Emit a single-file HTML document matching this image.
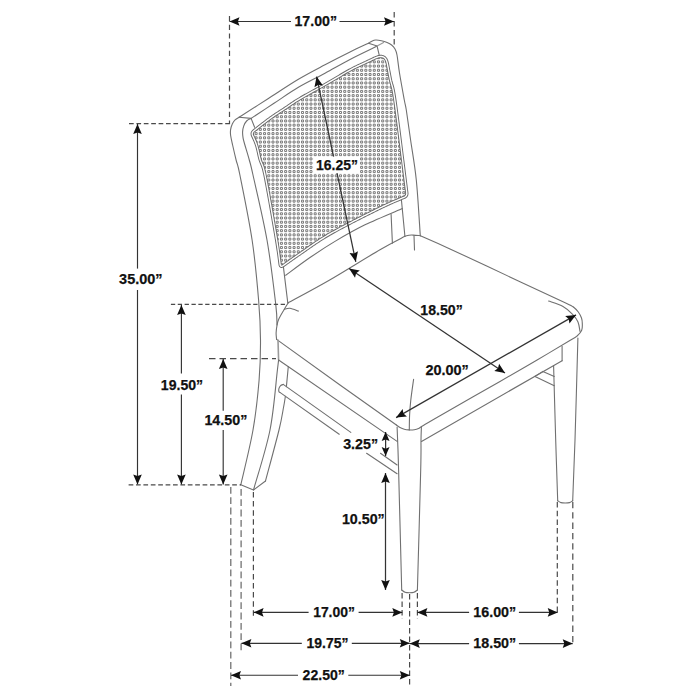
<!DOCTYPE html>
<html><head><meta charset="utf-8"><style>
html,body{margin:0;padding:0;background:#fff;width:700px;height:700px;overflow:hidden}
svg{display:block}
</style></head><body>
<svg width="700" height="700" viewBox="0 0 700 700">
<rect width="700" height="700" fill="#fff"/>
<defs><clipPath id="fc"><path d="M252.28,133.03L252.55,132.30L253.01,131.60L253.66,130.95L254.45,130.33L255.24,129.71L256.02,129.09L256.81,128.48L257.60,127.86L258.39,127.24L259.17,126.62L259.96,126.01L260.75,125.39L261.54,124.78L262.33,124.16L263.12,123.55L263.91,122.94L264.71,122.33L265.50,121.72L266.30,121.12L267.10,120.52L267.90,119.91L268.70,119.32L269.51,118.73L270.32,118.14L271.14,117.56L271.95,116.98L272.77,116.41L273.60,115.84L274.43,115.28L275.26,114.72L276.09,114.17L276.93,113.62L277.77,113.08L278.61,112.53L279.45,111.99L280.29,111.45L281.13,110.91L281.97,110.36L282.81,109.82L283.65,109.27L284.49,108.72L285.32,108.17L286.15,107.62L286.98,107.06L287.81,106.49L288.64,105.93L289.46,105.36L290.29,104.79L291.11,104.23L291.94,103.67L292.77,103.11L293.60,102.55L294.43,102.00L295.27,101.45L296.12,100.91L296.96,100.38L297.81,99.85L298.66,99.33L299.52,98.81L300.38,98.30L301.24,97.79L302.11,97.29L302.97,96.79L303.84,96.29L304.72,95.80L305.59,95.31L306.46,94.82L307.34,94.34L308.21,93.85L309.09,93.37L309.97,92.89L310.84,92.41L311.72,91.93L312.60,91.45L313.48,90.97L314.36,90.49L315.24,90.01L316.11,89.53L316.99,89.05L317.87,88.57L318.75,88.09L319.62,87.60L320.50,87.12L321.37,86.63L322.25,86.14L323.12,85.65L323.99,85.16L324.86,84.67L325.73,84.17L326.60,83.67L327.46,83.17L328.33,82.67L329.19,82.16L330.06,81.66L330.92,81.15L331.78,80.64L332.64,80.13L333.50,79.62L334.36,79.11L335.22,78.60L336.08,78.09L336.94,77.58L337.80,77.07L338.66,76.56L339.53,76.05L340.39,75.54L341.25,75.03L342.11,74.52L342.97,74.01L343.84,73.51L344.70,73.01L345.57,72.51L346.44,72.01L347.31,71.51L348.18,71.02L349.06,70.54L349.93,70.06L350.81,69.58L351.70,69.11L352.58,68.65L353.47,68.19L354.37,67.74L355.26,67.30L356.16,66.86L357.07,66.43L357.97,66.00L358.88,65.58L359.79,65.16L360.70,64.74L361.61,64.32L362.52,63.91L363.43,63.49L364.33,63.07L365.24,62.65L366.15,62.22L367.05,61.79L367.95,61.36L368.86,60.93L369.76,60.50L370.66,60.07L371.56,59.64L372.47,59.20L373.37,58.77L374.27,58.34L375.18,57.93L376.10,57.56L377.02,57.23L377.96,56.93L378.91,56.68L379.88,56.52L380.85,56.47L381.82,56.52L382.74,56.70L383.60,57.04L384.37,57.55L385.06,58.19L385.65,58.95L386.14,59.79L386.53,60.69L386.85,61.63L387.12,62.59L387.36,63.56L387.56,64.53L387.74,65.52L387.92,66.50L388.11,67.48L388.29,68.47L388.47,69.45L388.65,70.44L388.84,71.42L389.02,72.40L389.21,73.39L389.40,74.37L389.59,75.35L389.78,76.33L389.97,77.32L390.17,78.30L390.37,79.28L390.59,80.25L390.82,81.23L391.07,82.19L391.34,83.16L391.61,84.12L391.89,85.08L392.17,86.04L392.43,87.01L392.68,87.97L392.91,88.95L393.12,89.93L393.32,90.90L393.51,91.89L393.69,92.87L393.86,93.86L394.03,94.84L394.19,95.83L394.35,96.82L394.50,97.81L394.65,98.80L394.80,99.79L394.95,100.78L395.09,101.77L395.23,102.76L395.37,103.75L395.51,104.74L395.64,105.73L395.78,106.72L395.92,107.71L396.05,108.71L396.19,109.70L396.32,110.69L396.46,111.68L396.59,112.67L396.72,113.67L396.85,114.66L396.98,115.65L397.11,116.64L397.24,117.63L397.37,118.63L397.50,119.62L397.63,120.61L397.76,121.60L397.89,122.60L398.02,123.59L398.14,124.58L398.27,125.57L398.40,126.57L398.53,127.56L398.65,128.55L398.78,129.54L398.91,130.54L399.03,131.53L399.16,132.52L399.29,133.51L399.41,134.51L399.54,135.50L399.66,136.49L399.79,137.48L399.92,138.48L400.04,139.47L400.17,140.46L400.29,141.46L400.42,142.45L400.55,143.44L400.67,144.43L400.80,145.43L400.92,146.42L401.05,147.41L401.17,148.41L401.30,149.40L401.42,150.39L401.55,151.38L401.67,152.38L401.80,153.37L401.92,154.36L402.04,155.36L402.17,156.35L402.29,157.34L402.42,158.33L402.54,159.33L402.67,160.32L402.79,161.31L402.92,162.31L403.04,163.30L403.17,164.29L403.29,165.29L403.42,166.28L403.54,167.27L403.67,168.26L403.79,169.26L403.92,170.25L404.04,171.24L404.17,172.24L404.29,173.23L404.42,174.22L404.54,175.21L404.67,176.21L404.80,177.20L404.92,178.19L405.05,179.18L405.17,180.18L405.30,181.17L405.43,182.16L405.56,183.16L405.68,184.15L405.81,185.14L405.94,186.13L406.07,187.13L406.19,188.12L406.32,189.11L406.45,190.10L406.57,191.10L406.70,192.09L406.82,193.08L406.82,194.00L406.65,194.82L406.33,195.55L405.84,196.19L405.19,196.74L404.38,197.19L403.46,197.57L402.53,197.96L401.61,198.34L400.68,198.73L399.76,199.11L398.84,199.50L397.91,199.89L396.99,200.28L396.07,200.67L395.15,201.06L394.23,201.46L393.32,201.86L392.40,202.26L391.48,202.66L390.57,203.07L389.66,203.48L388.74,203.89L387.83,204.31L386.92,204.72L386.02,205.15L385.11,205.57L384.20,206.00L383.30,206.42L382.40,206.86L381.50,207.29L380.59,207.72L379.69,208.16L378.79,208.60L377.90,209.04L377.00,209.48L376.10,209.93L375.20,210.37L374.31,210.82L373.41,211.26L372.52,211.71L371.62,212.15L370.73,212.60L369.83,213.05L368.94,213.50L368.04,213.94L367.15,214.39L366.25,214.84L365.36,215.29L364.46,215.74L363.57,216.19L362.68,216.64L361.79,217.10L360.89,217.55L360.00,218.00L359.11,218.46L358.22,218.91L357.33,219.37L356.43,219.82L355.54,220.28L354.65,220.73L353.76,221.19L352.88,221.65L351.99,222.11L351.10,222.57L350.21,223.03L349.32,223.49L348.43,223.95L347.55,224.42L346.66,224.88L345.77,225.35L344.89,225.81L344.00,226.28L343.12,226.75L342.24,227.22L341.35,227.69L340.47,228.16L339.59,228.63L338.70,229.10L337.82,229.58L336.94,230.06L336.07,230.54L335.19,231.02L334.32,231.51L333.44,231.99L332.57,232.48L331.69,232.97L330.82,233.46L329.95,233.95L329.09,234.46L328.22,234.96L327.36,235.47L326.50,235.98L325.64,236.49L324.78,237.01L323.93,237.53L323.08,238.06L322.23,238.59L321.38,239.12L320.54,239.66L319.70,240.20L318.86,240.74L318.02,241.29L317.18,241.84L316.35,242.39L315.52,242.95L314.69,243.51L313.86,244.07L313.04,244.64L312.21,245.21L311.39,245.78L310.57,246.35L309.75,246.92L308.93,247.50L308.11,248.07L307.29,248.65L306.48,249.23L305.66,249.80L304.84,250.38L304.02,250.95L303.20,251.53L302.38,252.10L301.56,252.67L300.73,253.24L299.91,253.81L299.09,254.38L298.26,254.94L297.44,255.51L296.61,256.08L295.79,256.65L294.97,257.22L294.15,257.79L293.33,258.37L292.51,258.94L291.69,259.52L290.87,260.09L290.06,260.67L289.24,261.25L288.43,261.83L287.61,262.41L286.80,262.99L285.98,263.58L285.17,264.16L284.36,264.74L283.54,265.33L282.74,265.88L282.04,266.21L281.43,266.31L280.94,266.16L280.55,265.77L280.26,265.14L280.09,264.26L279.96,263.27L279.84,262.28L279.71,261.28L279.59,260.29L279.46,259.30L279.33,258.31L279.20,257.31L279.07,256.32L278.94,255.33L278.80,254.34L278.66,253.35L278.52,252.36L278.38,251.37L278.23,250.38L278.08,249.39L277.93,248.40L277.78,247.41L277.63,246.42L277.47,245.43L277.32,244.44L277.16,243.45L277.00,242.47L276.84,241.48L276.67,240.49L276.51,239.50L276.35,238.52L276.18,237.53L276.01,236.54L275.85,235.56L275.68,234.57L275.51,233.58L275.34,232.60L275.18,231.61L275.01,230.62L274.84,229.64L274.67,228.65L274.50,227.66L274.33,226.68L274.16,225.69L273.99,224.71L273.82,223.72L273.65,222.73L273.48,221.75L273.31,220.76L273.14,219.78L272.97,218.79L272.80,217.80L272.62,216.82L272.45,215.83L272.28,214.85L272.11,213.86L271.93,212.87L271.76,211.89L271.59,210.90L271.42,209.92L271.24,208.93L271.07,207.95L270.90,206.96L270.72,205.98L270.55,204.99L270.37,204.00L270.20,203.02L270.02,202.03L269.84,201.05L269.67,200.06L269.49,199.08L269.32,198.09L269.14,197.11L268.96,196.12L268.79,195.14L268.61,194.15L268.43,193.17L268.25,192.19L268.07,191.20L267.89,190.22L267.71,189.23L267.53,188.25L267.34,187.26L267.16,186.28L266.98,185.30L266.80,184.31L266.61,183.33L266.43,182.35L266.24,181.36L266.05,180.38L265.86,179.40L265.66,178.42L265.47,177.43L265.28,176.45L265.08,175.47L264.87,174.49L264.66,173.51L264.45,172.54L264.22,171.56L263.99,170.59L263.75,169.62L263.49,168.65L263.22,167.69L262.91,166.74L262.57,165.80L262.21,164.87L261.83,163.95L261.44,163.03L261.06,162.11L260.69,161.18L260.36,160.24L260.06,159.29L259.80,158.33L259.55,157.36L259.32,156.38L259.10,155.41L258.88,154.43L258.67,153.45L258.46,152.47L258.24,151.50L258.03,150.52L257.80,149.55L257.56,148.57L257.31,147.61L257.05,146.64L256.76,145.68L256.45,144.73L256.13,143.79L255.78,142.85L255.42,141.92L255.04,140.99L254.65,140.07L254.25,139.16L253.84,138.24L253.42,137.33L253.00,136.43L252.57,135.52L252.29,134.65L252.19,133.82Z"/></clipPath></defs>
<path clip-path="url(#fc)" d="M246.67 52.43h2.0v2.0h-2.0zM246.67 56.65h2.0v2.0h-2.0zM246.67 60.87h2.0v2.0h-2.0zM246.67 65.09h2.0v2.0h-2.0zM246.67 69.31h2.0v2.0h-2.0zM246.67 73.53h2.0v2.0h-2.0zM246.67 77.75h2.0v2.0h-2.0zM246.67 81.97h2.0v2.0h-2.0zM246.67 86.19h2.0v2.0h-2.0zM246.67 90.41h2.0v2.0h-2.0zM246.67 94.63h2.0v2.0h-2.0zM246.67 98.85h2.0v2.0h-2.0zM246.67 103.07h2.0v2.0h-2.0zM246.67 107.29h2.0v2.0h-2.0zM246.67 111.51h2.0v2.0h-2.0zM246.67 115.73h2.0v2.0h-2.0zM246.67 119.95h2.0v2.0h-2.0zM246.67 124.17h2.0v2.0h-2.0zM246.67 128.39h2.0v2.0h-2.0zM246.67 132.61h2.0v2.0h-2.0zM246.67 136.83h2.0v2.0h-2.0zM246.67 141.05h2.0v2.0h-2.0zM246.67 145.27h2.0v2.0h-2.0zM246.67 149.49h2.0v2.0h-2.0zM246.67 153.71h2.0v2.0h-2.0zM246.67 157.93h2.0v2.0h-2.0zM246.67 162.15h2.0v2.0h-2.0zM246.67 166.37h2.0v2.0h-2.0zM246.67 170.59h2.0v2.0h-2.0zM246.67 174.81h2.0v2.0h-2.0zM246.67 179.03h2.0v2.0h-2.0zM246.67 183.25h2.0v2.0h-2.0zM246.67 187.47h2.0v2.0h-2.0zM246.67 191.69h2.0v2.0h-2.0zM246.67 195.91h2.0v2.0h-2.0zM246.67 200.13h2.0v2.0h-2.0zM246.67 204.35h2.0v2.0h-2.0zM246.67 208.57h2.0v2.0h-2.0zM246.67 212.79h2.0v2.0h-2.0zM246.67 217.01h2.0v2.0h-2.0zM246.67 221.23h2.0v2.0h-2.0zM246.67 225.45h2.0v2.0h-2.0zM246.67 229.67h2.0v2.0h-2.0zM246.67 233.89h2.0v2.0h-2.0zM246.67 238.11h2.0v2.0h-2.0zM246.67 242.33h2.0v2.0h-2.0zM246.67 246.55h2.0v2.0h-2.0zM246.67 250.77h2.0v2.0h-2.0zM246.67 254.99h2.0v2.0h-2.0zM246.67 259.21h2.0v2.0h-2.0zM246.67 263.43h2.0v2.0h-2.0zM246.67 267.65h2.0v2.0h-2.0zM250.89 52.43h2.0v2.0h-2.0zM250.89 56.65h2.0v2.0h-2.0zM250.89 60.87h2.0v2.0h-2.0zM250.89 65.09h2.0v2.0h-2.0zM250.89 69.31h2.0v2.0h-2.0zM250.89 73.53h2.0v2.0h-2.0zM250.89 77.75h2.0v2.0h-2.0zM250.89 81.97h2.0v2.0h-2.0zM250.89 86.19h2.0v2.0h-2.0zM250.89 90.41h2.0v2.0h-2.0zM250.89 94.63h2.0v2.0h-2.0zM250.89 98.85h2.0v2.0h-2.0zM250.89 103.07h2.0v2.0h-2.0zM250.89 107.29h2.0v2.0h-2.0zM250.89 111.51h2.0v2.0h-2.0zM250.89 115.73h2.0v2.0h-2.0zM250.89 119.95h2.0v2.0h-2.0zM250.89 124.17h2.0v2.0h-2.0zM250.89 128.39h2.0v2.0h-2.0zM250.89 132.61h2.0v2.0h-2.0zM250.89 136.83h2.0v2.0h-2.0zM250.89 141.05h2.0v2.0h-2.0zM250.89 145.27h2.0v2.0h-2.0zM250.89 149.49h2.0v2.0h-2.0zM250.89 153.71h2.0v2.0h-2.0zM250.89 157.93h2.0v2.0h-2.0zM250.89 162.15h2.0v2.0h-2.0zM250.89 166.37h2.0v2.0h-2.0zM250.89 170.59h2.0v2.0h-2.0zM250.89 174.81h2.0v2.0h-2.0zM250.89 179.03h2.0v2.0h-2.0zM250.89 183.25h2.0v2.0h-2.0zM250.89 187.47h2.0v2.0h-2.0zM250.89 191.69h2.0v2.0h-2.0zM250.89 195.91h2.0v2.0h-2.0zM250.89 200.13h2.0v2.0h-2.0zM250.89 204.35h2.0v2.0h-2.0zM250.89 208.57h2.0v2.0h-2.0zM250.89 212.79h2.0v2.0h-2.0zM250.89 217.01h2.0v2.0h-2.0zM250.89 221.23h2.0v2.0h-2.0zM250.89 225.45h2.0v2.0h-2.0zM250.89 229.67h2.0v2.0h-2.0zM250.89 233.89h2.0v2.0h-2.0zM250.89 238.11h2.0v2.0h-2.0zM250.89 242.33h2.0v2.0h-2.0zM250.89 246.55h2.0v2.0h-2.0zM250.89 250.77h2.0v2.0h-2.0zM250.89 254.99h2.0v2.0h-2.0zM250.89 259.21h2.0v2.0h-2.0zM250.89 263.43h2.0v2.0h-2.0zM250.89 267.65h2.0v2.0h-2.0zM255.11 52.43h2.0v2.0h-2.0zM255.11 56.65h2.0v2.0h-2.0zM255.11 60.87h2.0v2.0h-2.0zM255.11 65.09h2.0v2.0h-2.0zM255.11 69.31h2.0v2.0h-2.0zM255.11 73.53h2.0v2.0h-2.0zM255.11 77.75h2.0v2.0h-2.0zM255.11 81.97h2.0v2.0h-2.0zM255.11 86.19h2.0v2.0h-2.0zM255.11 90.41h2.0v2.0h-2.0zM255.11 94.63h2.0v2.0h-2.0zM255.11 98.85h2.0v2.0h-2.0zM255.11 103.07h2.0v2.0h-2.0zM255.11 107.29h2.0v2.0h-2.0zM255.11 111.51h2.0v2.0h-2.0zM255.11 115.73h2.0v2.0h-2.0zM255.11 119.95h2.0v2.0h-2.0zM255.11 124.17h2.0v2.0h-2.0zM255.11 128.39h2.0v2.0h-2.0zM255.11 132.61h2.0v2.0h-2.0zM255.11 136.83h2.0v2.0h-2.0zM255.11 141.05h2.0v2.0h-2.0zM255.11 145.27h2.0v2.0h-2.0zM255.11 149.49h2.0v2.0h-2.0zM255.11 153.71h2.0v2.0h-2.0zM255.11 157.93h2.0v2.0h-2.0zM255.11 162.15h2.0v2.0h-2.0zM255.11 166.37h2.0v2.0h-2.0zM255.11 170.59h2.0v2.0h-2.0zM255.11 174.81h2.0v2.0h-2.0zM255.11 179.03h2.0v2.0h-2.0zM255.11 183.25h2.0v2.0h-2.0zM255.11 187.47h2.0v2.0h-2.0zM255.11 191.69h2.0v2.0h-2.0zM255.11 195.91h2.0v2.0h-2.0zM255.11 200.13h2.0v2.0h-2.0zM255.11 204.35h2.0v2.0h-2.0zM255.11 208.57h2.0v2.0h-2.0zM255.11 212.79h2.0v2.0h-2.0zM255.11 217.01h2.0v2.0h-2.0zM255.11 221.23h2.0v2.0h-2.0zM255.11 225.45h2.0v2.0h-2.0zM255.11 229.67h2.0v2.0h-2.0zM255.11 233.89h2.0v2.0h-2.0zM255.11 238.11h2.0v2.0h-2.0zM255.11 242.33h2.0v2.0h-2.0zM255.11 246.55h2.0v2.0h-2.0zM255.11 250.77h2.0v2.0h-2.0zM255.11 254.99h2.0v2.0h-2.0zM255.11 259.21h2.0v2.0h-2.0zM255.11 263.43h2.0v2.0h-2.0zM255.11 267.65h2.0v2.0h-2.0zM259.33 52.43h2.0v2.0h-2.0zM259.33 56.65h2.0v2.0h-2.0zM259.33 60.87h2.0v2.0h-2.0zM259.33 65.09h2.0v2.0h-2.0zM259.33 69.31h2.0v2.0h-2.0zM259.33 73.53h2.0v2.0h-2.0zM259.33 77.75h2.0v2.0h-2.0zM259.33 81.97h2.0v2.0h-2.0zM259.33 86.19h2.0v2.0h-2.0zM259.33 90.41h2.0v2.0h-2.0zM259.33 94.63h2.0v2.0h-2.0zM259.33 98.85h2.0v2.0h-2.0zM259.33 103.07h2.0v2.0h-2.0zM259.33 107.29h2.0v2.0h-2.0zM259.33 111.51h2.0v2.0h-2.0zM259.33 115.73h2.0v2.0h-2.0zM259.33 119.95h2.0v2.0h-2.0zM259.33 124.17h2.0v2.0h-2.0zM259.33 128.39h2.0v2.0h-2.0zM259.33 132.61h2.0v2.0h-2.0zM259.33 136.83h2.0v2.0h-2.0zM259.33 141.05h2.0v2.0h-2.0zM259.33 145.27h2.0v2.0h-2.0zM259.33 149.49h2.0v2.0h-2.0zM259.33 153.71h2.0v2.0h-2.0zM259.33 157.93h2.0v2.0h-2.0zM259.33 162.15h2.0v2.0h-2.0zM259.33 166.37h2.0v2.0h-2.0zM259.33 170.59h2.0v2.0h-2.0zM259.33 174.81h2.0v2.0h-2.0zM259.33 179.03h2.0v2.0h-2.0zM259.33 183.25h2.0v2.0h-2.0zM259.33 187.47h2.0v2.0h-2.0zM259.33 191.69h2.0v2.0h-2.0zM259.33 195.91h2.0v2.0h-2.0zM259.33 200.13h2.0v2.0h-2.0zM259.33 204.35h2.0v2.0h-2.0zM259.33 208.57h2.0v2.0h-2.0zM259.33 212.79h2.0v2.0h-2.0zM259.33 217.01h2.0v2.0h-2.0zM259.33 221.23h2.0v2.0h-2.0zM259.33 225.45h2.0v2.0h-2.0zM259.33 229.67h2.0v2.0h-2.0zM259.33 233.89h2.0v2.0h-2.0zM259.33 238.11h2.0v2.0h-2.0zM259.33 242.33h2.0v2.0h-2.0zM259.33 246.55h2.0v2.0h-2.0zM259.33 250.77h2.0v2.0h-2.0zM259.33 254.99h2.0v2.0h-2.0zM259.33 259.21h2.0v2.0h-2.0zM259.33 263.43h2.0v2.0h-2.0zM259.33 267.65h2.0v2.0h-2.0zM263.55 52.43h2.0v2.0h-2.0zM263.55 56.65h2.0v2.0h-2.0zM263.55 60.87h2.0v2.0h-2.0zM263.55 65.09h2.0v2.0h-2.0zM263.55 69.31h2.0v2.0h-2.0zM263.55 73.53h2.0v2.0h-2.0zM263.55 77.75h2.0v2.0h-2.0zM263.55 81.97h2.0v2.0h-2.0zM263.55 86.19h2.0v2.0h-2.0zM263.55 90.41h2.0v2.0h-2.0zM263.55 94.63h2.0v2.0h-2.0zM263.55 98.85h2.0v2.0h-2.0zM263.55 103.07h2.0v2.0h-2.0zM263.55 107.29h2.0v2.0h-2.0zM263.55 111.51h2.0v2.0h-2.0zM263.55 115.73h2.0v2.0h-2.0zM263.55 119.95h2.0v2.0h-2.0zM263.55 124.17h2.0v2.0h-2.0zM263.55 128.39h2.0v2.0h-2.0zM263.55 132.61h2.0v2.0h-2.0zM263.55 136.83h2.0v2.0h-2.0zM263.55 141.05h2.0v2.0h-2.0zM263.55 145.27h2.0v2.0h-2.0zM263.55 149.49h2.0v2.0h-2.0zM263.55 153.71h2.0v2.0h-2.0zM263.55 157.93h2.0v2.0h-2.0zM263.55 162.15h2.0v2.0h-2.0zM263.55 166.37h2.0v2.0h-2.0zM263.55 170.59h2.0v2.0h-2.0zM263.55 174.81h2.0v2.0h-2.0zM263.55 179.03h2.0v2.0h-2.0zM263.55 183.25h2.0v2.0h-2.0zM263.55 187.47h2.0v2.0h-2.0zM263.55 191.69h2.0v2.0h-2.0zM263.55 195.91h2.0v2.0h-2.0zM263.55 200.13h2.0v2.0h-2.0zM263.55 204.35h2.0v2.0h-2.0zM263.55 208.57h2.0v2.0h-2.0zM263.55 212.79h2.0v2.0h-2.0zM263.55 217.01h2.0v2.0h-2.0zM263.55 221.23h2.0v2.0h-2.0zM263.55 225.45h2.0v2.0h-2.0zM263.55 229.67h2.0v2.0h-2.0zM263.55 233.89h2.0v2.0h-2.0zM263.55 238.11h2.0v2.0h-2.0zM263.55 242.33h2.0v2.0h-2.0zM263.55 246.55h2.0v2.0h-2.0zM263.55 250.77h2.0v2.0h-2.0zM263.55 254.99h2.0v2.0h-2.0zM263.55 259.21h2.0v2.0h-2.0zM263.55 263.43h2.0v2.0h-2.0zM263.55 267.65h2.0v2.0h-2.0zM267.77 52.43h2.0v2.0h-2.0zM267.77 56.65h2.0v2.0h-2.0zM267.77 60.87h2.0v2.0h-2.0zM267.77 65.09h2.0v2.0h-2.0zM267.77 69.31h2.0v2.0h-2.0zM267.77 73.53h2.0v2.0h-2.0zM267.77 77.75h2.0v2.0h-2.0zM267.77 81.97h2.0v2.0h-2.0zM267.77 86.19h2.0v2.0h-2.0zM267.77 90.41h2.0v2.0h-2.0zM267.77 94.63h2.0v2.0h-2.0zM267.77 98.85h2.0v2.0h-2.0zM267.77 103.07h2.0v2.0h-2.0zM267.77 107.29h2.0v2.0h-2.0zM267.77 111.51h2.0v2.0h-2.0zM267.77 115.73h2.0v2.0h-2.0zM267.77 119.95h2.0v2.0h-2.0zM267.77 124.17h2.0v2.0h-2.0zM267.77 128.39h2.0v2.0h-2.0zM267.77 132.61h2.0v2.0h-2.0zM267.77 136.83h2.0v2.0h-2.0zM267.77 141.05h2.0v2.0h-2.0zM267.77 145.27h2.0v2.0h-2.0zM267.77 149.49h2.0v2.0h-2.0zM267.77 153.71h2.0v2.0h-2.0zM267.77 157.93h2.0v2.0h-2.0zM267.77 162.15h2.0v2.0h-2.0zM267.77 166.37h2.0v2.0h-2.0zM267.77 170.59h2.0v2.0h-2.0zM267.77 174.81h2.0v2.0h-2.0zM267.77 179.03h2.0v2.0h-2.0zM267.77 183.25h2.0v2.0h-2.0zM267.77 187.47h2.0v2.0h-2.0zM267.77 191.69h2.0v2.0h-2.0zM267.77 195.91h2.0v2.0h-2.0zM267.77 200.13h2.0v2.0h-2.0zM267.77 204.35h2.0v2.0h-2.0zM267.77 208.57h2.0v2.0h-2.0zM267.77 212.79h2.0v2.0h-2.0zM267.77 217.01h2.0v2.0h-2.0zM267.77 221.23h2.0v2.0h-2.0zM267.77 225.45h2.0v2.0h-2.0zM267.77 229.67h2.0v2.0h-2.0zM267.77 233.89h2.0v2.0h-2.0zM267.77 238.11h2.0v2.0h-2.0zM267.77 242.33h2.0v2.0h-2.0zM267.77 246.55h2.0v2.0h-2.0zM267.77 250.77h2.0v2.0h-2.0zM267.77 254.99h2.0v2.0h-2.0zM267.77 259.21h2.0v2.0h-2.0zM267.77 263.43h2.0v2.0h-2.0zM267.77 267.65h2.0v2.0h-2.0zM271.99 52.43h2.0v2.0h-2.0zM271.99 56.65h2.0v2.0h-2.0zM271.99 60.87h2.0v2.0h-2.0zM271.99 65.09h2.0v2.0h-2.0zM271.99 69.31h2.0v2.0h-2.0zM271.99 73.53h2.0v2.0h-2.0zM271.99 77.75h2.0v2.0h-2.0zM271.99 81.97h2.0v2.0h-2.0zM271.99 86.19h2.0v2.0h-2.0zM271.99 90.41h2.0v2.0h-2.0zM271.99 94.63h2.0v2.0h-2.0zM271.99 98.85h2.0v2.0h-2.0zM271.99 103.07h2.0v2.0h-2.0zM271.99 107.29h2.0v2.0h-2.0zM271.99 111.51h2.0v2.0h-2.0zM271.99 115.73h2.0v2.0h-2.0zM271.99 119.95h2.0v2.0h-2.0zM271.99 124.17h2.0v2.0h-2.0zM271.99 128.39h2.0v2.0h-2.0zM271.99 132.61h2.0v2.0h-2.0zM271.99 136.83h2.0v2.0h-2.0zM271.99 141.05h2.0v2.0h-2.0zM271.99 145.27h2.0v2.0h-2.0zM271.99 149.49h2.0v2.0h-2.0zM271.99 153.71h2.0v2.0h-2.0zM271.99 157.93h2.0v2.0h-2.0zM271.99 162.15h2.0v2.0h-2.0zM271.99 166.37h2.0v2.0h-2.0zM271.99 170.59h2.0v2.0h-2.0zM271.99 174.81h2.0v2.0h-2.0zM271.99 179.03h2.0v2.0h-2.0zM271.99 183.25h2.0v2.0h-2.0zM271.99 187.47h2.0v2.0h-2.0zM271.99 191.69h2.0v2.0h-2.0zM271.99 195.91h2.0v2.0h-2.0zM271.99 200.13h2.0v2.0h-2.0zM271.99 204.35h2.0v2.0h-2.0zM271.99 208.57h2.0v2.0h-2.0zM271.99 212.79h2.0v2.0h-2.0zM271.99 217.01h2.0v2.0h-2.0zM271.99 221.23h2.0v2.0h-2.0zM271.99 225.45h2.0v2.0h-2.0zM271.99 229.67h2.0v2.0h-2.0zM271.99 233.89h2.0v2.0h-2.0zM271.99 238.11h2.0v2.0h-2.0zM271.99 242.33h2.0v2.0h-2.0zM271.99 246.55h2.0v2.0h-2.0zM271.99 250.77h2.0v2.0h-2.0zM271.99 254.99h2.0v2.0h-2.0zM271.99 259.21h2.0v2.0h-2.0zM271.99 263.43h2.0v2.0h-2.0zM271.99 267.65h2.0v2.0h-2.0zM276.21 52.43h2.0v2.0h-2.0zM276.21 56.65h2.0v2.0h-2.0zM276.21 60.87h2.0v2.0h-2.0zM276.21 65.09h2.0v2.0h-2.0zM276.21 69.31h2.0v2.0h-2.0zM276.21 73.53h2.0v2.0h-2.0zM276.21 77.75h2.0v2.0h-2.0zM276.21 81.97h2.0v2.0h-2.0zM276.21 86.19h2.0v2.0h-2.0zM276.21 90.41h2.0v2.0h-2.0zM276.21 94.63h2.0v2.0h-2.0zM276.21 98.85h2.0v2.0h-2.0zM276.21 103.07h2.0v2.0h-2.0zM276.21 107.29h2.0v2.0h-2.0zM276.21 111.51h2.0v2.0h-2.0zM276.21 115.73h2.0v2.0h-2.0zM276.21 119.95h2.0v2.0h-2.0zM276.21 124.17h2.0v2.0h-2.0zM276.21 128.39h2.0v2.0h-2.0zM276.21 132.61h2.0v2.0h-2.0zM276.21 136.83h2.0v2.0h-2.0zM276.21 141.05h2.0v2.0h-2.0zM276.21 145.27h2.0v2.0h-2.0zM276.21 149.49h2.0v2.0h-2.0zM276.21 153.71h2.0v2.0h-2.0zM276.21 157.93h2.0v2.0h-2.0zM276.21 162.15h2.0v2.0h-2.0zM276.21 166.37h2.0v2.0h-2.0zM276.21 170.59h2.0v2.0h-2.0zM276.21 174.81h2.0v2.0h-2.0zM276.21 179.03h2.0v2.0h-2.0zM276.21 183.25h2.0v2.0h-2.0zM276.21 187.47h2.0v2.0h-2.0zM276.21 191.69h2.0v2.0h-2.0zM276.21 195.91h2.0v2.0h-2.0zM276.21 200.13h2.0v2.0h-2.0zM276.21 204.35h2.0v2.0h-2.0zM276.21 208.57h2.0v2.0h-2.0zM276.21 212.79h2.0v2.0h-2.0zM276.21 217.01h2.0v2.0h-2.0zM276.21 221.23h2.0v2.0h-2.0zM276.21 225.45h2.0v2.0h-2.0zM276.21 229.67h2.0v2.0h-2.0zM276.21 233.89h2.0v2.0h-2.0zM276.21 238.11h2.0v2.0h-2.0zM276.21 242.33h2.0v2.0h-2.0zM276.21 246.55h2.0v2.0h-2.0zM276.21 250.77h2.0v2.0h-2.0zM276.21 254.99h2.0v2.0h-2.0zM276.21 259.21h2.0v2.0h-2.0zM276.21 263.43h2.0v2.0h-2.0zM276.21 267.65h2.0v2.0h-2.0zM280.43 52.43h2.0v2.0h-2.0zM280.43 56.65h2.0v2.0h-2.0zM280.43 60.87h2.0v2.0h-2.0zM280.43 65.09h2.0v2.0h-2.0zM280.43 69.31h2.0v2.0h-2.0zM280.43 73.53h2.0v2.0h-2.0zM280.43 77.75h2.0v2.0h-2.0zM280.43 81.97h2.0v2.0h-2.0zM280.43 86.19h2.0v2.0h-2.0zM280.43 90.41h2.0v2.0h-2.0zM280.43 94.63h2.0v2.0h-2.0zM280.43 98.85h2.0v2.0h-2.0zM280.43 103.07h2.0v2.0h-2.0zM280.43 107.29h2.0v2.0h-2.0zM280.43 111.51h2.0v2.0h-2.0zM280.43 115.73h2.0v2.0h-2.0zM280.43 119.95h2.0v2.0h-2.0zM280.43 124.17h2.0v2.0h-2.0zM280.43 128.39h2.0v2.0h-2.0zM280.43 132.61h2.0v2.0h-2.0zM280.43 136.83h2.0v2.0h-2.0zM280.43 141.05h2.0v2.0h-2.0zM280.43 145.27h2.0v2.0h-2.0zM280.43 149.49h2.0v2.0h-2.0zM280.43 153.71h2.0v2.0h-2.0zM280.43 157.93h2.0v2.0h-2.0zM280.43 162.15h2.0v2.0h-2.0zM280.43 166.37h2.0v2.0h-2.0zM280.43 170.59h2.0v2.0h-2.0zM280.43 174.81h2.0v2.0h-2.0zM280.43 179.03h2.0v2.0h-2.0zM280.43 183.25h2.0v2.0h-2.0zM280.43 187.47h2.0v2.0h-2.0zM280.43 191.69h2.0v2.0h-2.0zM280.43 195.91h2.0v2.0h-2.0zM280.43 200.13h2.0v2.0h-2.0zM280.43 204.35h2.0v2.0h-2.0zM280.43 208.57h2.0v2.0h-2.0zM280.43 212.79h2.0v2.0h-2.0zM280.43 217.01h2.0v2.0h-2.0zM280.43 221.23h2.0v2.0h-2.0zM280.43 225.45h2.0v2.0h-2.0zM280.43 229.67h2.0v2.0h-2.0zM280.43 233.89h2.0v2.0h-2.0zM280.43 238.11h2.0v2.0h-2.0zM280.43 242.33h2.0v2.0h-2.0zM280.43 246.55h2.0v2.0h-2.0zM280.43 250.77h2.0v2.0h-2.0zM280.43 254.99h2.0v2.0h-2.0zM280.43 259.21h2.0v2.0h-2.0zM280.43 263.43h2.0v2.0h-2.0zM280.43 267.65h2.0v2.0h-2.0zM284.65 52.43h2.0v2.0h-2.0zM284.65 56.65h2.0v2.0h-2.0zM284.65 60.87h2.0v2.0h-2.0zM284.65 65.09h2.0v2.0h-2.0zM284.65 69.31h2.0v2.0h-2.0zM284.65 73.53h2.0v2.0h-2.0zM284.65 77.75h2.0v2.0h-2.0zM284.65 81.97h2.0v2.0h-2.0zM284.65 86.19h2.0v2.0h-2.0zM284.65 90.41h2.0v2.0h-2.0zM284.65 94.63h2.0v2.0h-2.0zM284.65 98.85h2.0v2.0h-2.0zM284.65 103.07h2.0v2.0h-2.0zM284.65 107.29h2.0v2.0h-2.0zM284.65 111.51h2.0v2.0h-2.0zM284.65 115.73h2.0v2.0h-2.0zM284.65 119.95h2.0v2.0h-2.0zM284.65 124.17h2.0v2.0h-2.0zM284.65 128.39h2.0v2.0h-2.0zM284.65 132.61h2.0v2.0h-2.0zM284.65 136.83h2.0v2.0h-2.0zM284.65 141.05h2.0v2.0h-2.0zM284.65 145.27h2.0v2.0h-2.0zM284.65 149.49h2.0v2.0h-2.0zM284.65 153.71h2.0v2.0h-2.0zM284.65 157.93h2.0v2.0h-2.0zM284.65 162.15h2.0v2.0h-2.0zM284.65 166.37h2.0v2.0h-2.0zM284.65 170.59h2.0v2.0h-2.0zM284.65 174.81h2.0v2.0h-2.0zM284.65 179.03h2.0v2.0h-2.0zM284.65 183.25h2.0v2.0h-2.0zM284.65 187.47h2.0v2.0h-2.0zM284.65 191.69h2.0v2.0h-2.0zM284.65 195.91h2.0v2.0h-2.0zM284.65 200.13h2.0v2.0h-2.0zM284.65 204.35h2.0v2.0h-2.0zM284.65 208.57h2.0v2.0h-2.0zM284.65 212.79h2.0v2.0h-2.0zM284.65 217.01h2.0v2.0h-2.0zM284.65 221.23h2.0v2.0h-2.0zM284.65 225.45h2.0v2.0h-2.0zM284.65 229.67h2.0v2.0h-2.0zM284.65 233.89h2.0v2.0h-2.0zM284.65 238.11h2.0v2.0h-2.0zM284.65 242.33h2.0v2.0h-2.0zM284.65 246.55h2.0v2.0h-2.0zM284.65 250.77h2.0v2.0h-2.0zM284.65 254.99h2.0v2.0h-2.0zM284.65 259.21h2.0v2.0h-2.0zM284.65 263.43h2.0v2.0h-2.0zM284.65 267.65h2.0v2.0h-2.0zM288.87 52.43h2.0v2.0h-2.0zM288.87 56.65h2.0v2.0h-2.0zM288.87 60.87h2.0v2.0h-2.0zM288.87 65.09h2.0v2.0h-2.0zM288.87 69.31h2.0v2.0h-2.0zM288.87 73.53h2.0v2.0h-2.0zM288.87 77.75h2.0v2.0h-2.0zM288.87 81.97h2.0v2.0h-2.0zM288.87 86.19h2.0v2.0h-2.0zM288.87 90.41h2.0v2.0h-2.0zM288.87 94.63h2.0v2.0h-2.0zM288.87 98.85h2.0v2.0h-2.0zM288.87 103.07h2.0v2.0h-2.0zM288.87 107.29h2.0v2.0h-2.0zM288.87 111.51h2.0v2.0h-2.0zM288.87 115.73h2.0v2.0h-2.0zM288.87 119.95h2.0v2.0h-2.0zM288.87 124.17h2.0v2.0h-2.0zM288.87 128.39h2.0v2.0h-2.0zM288.87 132.61h2.0v2.0h-2.0zM288.87 136.83h2.0v2.0h-2.0zM288.87 141.05h2.0v2.0h-2.0zM288.87 145.27h2.0v2.0h-2.0zM288.87 149.49h2.0v2.0h-2.0zM288.87 153.71h2.0v2.0h-2.0zM288.87 157.93h2.0v2.0h-2.0zM288.87 162.15h2.0v2.0h-2.0zM288.87 166.37h2.0v2.0h-2.0zM288.87 170.59h2.0v2.0h-2.0zM288.87 174.81h2.0v2.0h-2.0zM288.87 179.03h2.0v2.0h-2.0zM288.87 183.25h2.0v2.0h-2.0zM288.87 187.47h2.0v2.0h-2.0zM288.87 191.69h2.0v2.0h-2.0zM288.87 195.91h2.0v2.0h-2.0zM288.87 200.13h2.0v2.0h-2.0zM288.87 204.35h2.0v2.0h-2.0zM288.87 208.57h2.0v2.0h-2.0zM288.87 212.79h2.0v2.0h-2.0zM288.87 217.01h2.0v2.0h-2.0zM288.87 221.23h2.0v2.0h-2.0zM288.87 225.45h2.0v2.0h-2.0zM288.87 229.67h2.0v2.0h-2.0zM288.87 233.89h2.0v2.0h-2.0zM288.87 238.11h2.0v2.0h-2.0zM288.87 242.33h2.0v2.0h-2.0zM288.87 246.55h2.0v2.0h-2.0zM288.87 250.77h2.0v2.0h-2.0zM288.87 254.99h2.0v2.0h-2.0zM288.87 259.21h2.0v2.0h-2.0zM288.87 263.43h2.0v2.0h-2.0zM288.87 267.65h2.0v2.0h-2.0zM293.09 52.43h2.0v2.0h-2.0zM293.09 56.65h2.0v2.0h-2.0zM293.09 60.87h2.0v2.0h-2.0zM293.09 65.09h2.0v2.0h-2.0zM293.09 69.31h2.0v2.0h-2.0zM293.09 73.53h2.0v2.0h-2.0zM293.09 77.75h2.0v2.0h-2.0zM293.09 81.97h2.0v2.0h-2.0zM293.09 86.19h2.0v2.0h-2.0zM293.09 90.41h2.0v2.0h-2.0zM293.09 94.63h2.0v2.0h-2.0zM293.09 98.85h2.0v2.0h-2.0zM293.09 103.07h2.0v2.0h-2.0zM293.09 107.29h2.0v2.0h-2.0zM293.09 111.51h2.0v2.0h-2.0zM293.09 115.73h2.0v2.0h-2.0zM293.09 119.95h2.0v2.0h-2.0zM293.09 124.17h2.0v2.0h-2.0zM293.09 128.39h2.0v2.0h-2.0zM293.09 132.61h2.0v2.0h-2.0zM293.09 136.83h2.0v2.0h-2.0zM293.09 141.05h2.0v2.0h-2.0zM293.09 145.27h2.0v2.0h-2.0zM293.09 149.49h2.0v2.0h-2.0zM293.09 153.71h2.0v2.0h-2.0zM293.09 157.93h2.0v2.0h-2.0zM293.09 162.15h2.0v2.0h-2.0zM293.09 166.37h2.0v2.0h-2.0zM293.09 170.59h2.0v2.0h-2.0zM293.09 174.81h2.0v2.0h-2.0zM293.09 179.03h2.0v2.0h-2.0zM293.09 183.25h2.0v2.0h-2.0zM293.09 187.47h2.0v2.0h-2.0zM293.09 191.69h2.0v2.0h-2.0zM293.09 195.91h2.0v2.0h-2.0zM293.09 200.13h2.0v2.0h-2.0zM293.09 204.35h2.0v2.0h-2.0zM293.09 208.57h2.0v2.0h-2.0zM293.09 212.79h2.0v2.0h-2.0zM293.09 217.01h2.0v2.0h-2.0zM293.09 221.23h2.0v2.0h-2.0zM293.09 225.45h2.0v2.0h-2.0zM293.09 229.67h2.0v2.0h-2.0zM293.09 233.89h2.0v2.0h-2.0zM293.09 238.11h2.0v2.0h-2.0zM293.09 242.33h2.0v2.0h-2.0zM293.09 246.55h2.0v2.0h-2.0zM293.09 250.77h2.0v2.0h-2.0zM293.09 254.99h2.0v2.0h-2.0zM293.09 259.21h2.0v2.0h-2.0zM293.09 263.43h2.0v2.0h-2.0zM293.09 267.65h2.0v2.0h-2.0zM297.31 52.43h2.0v2.0h-2.0zM297.31 56.65h2.0v2.0h-2.0zM297.31 60.87h2.0v2.0h-2.0zM297.31 65.09h2.0v2.0h-2.0zM297.31 69.31h2.0v2.0h-2.0zM297.31 73.53h2.0v2.0h-2.0zM297.31 77.75h2.0v2.0h-2.0zM297.31 81.97h2.0v2.0h-2.0zM297.31 86.19h2.0v2.0h-2.0zM297.31 90.41h2.0v2.0h-2.0zM297.31 94.63h2.0v2.0h-2.0zM297.31 98.85h2.0v2.0h-2.0zM297.31 103.07h2.0v2.0h-2.0zM297.31 107.29h2.0v2.0h-2.0zM297.31 111.51h2.0v2.0h-2.0zM297.31 115.73h2.0v2.0h-2.0zM297.31 119.95h2.0v2.0h-2.0zM297.31 124.17h2.0v2.0h-2.0zM297.31 128.39h2.0v2.0h-2.0zM297.31 132.61h2.0v2.0h-2.0zM297.31 136.83h2.0v2.0h-2.0zM297.31 141.05h2.0v2.0h-2.0zM297.31 145.27h2.0v2.0h-2.0zM297.31 149.49h2.0v2.0h-2.0zM297.31 153.71h2.0v2.0h-2.0zM297.31 157.93h2.0v2.0h-2.0zM297.31 162.15h2.0v2.0h-2.0zM297.31 166.37h2.0v2.0h-2.0zM297.31 170.59h2.0v2.0h-2.0zM297.31 174.81h2.0v2.0h-2.0zM297.31 179.03h2.0v2.0h-2.0zM297.31 183.25h2.0v2.0h-2.0zM297.31 187.47h2.0v2.0h-2.0zM297.31 191.69h2.0v2.0h-2.0zM297.31 195.91h2.0v2.0h-2.0zM297.31 200.13h2.0v2.0h-2.0zM297.31 204.35h2.0v2.0h-2.0zM297.31 208.57h2.0v2.0h-2.0zM297.31 212.79h2.0v2.0h-2.0zM297.31 217.01h2.0v2.0h-2.0zM297.31 221.23h2.0v2.0h-2.0zM297.31 225.45h2.0v2.0h-2.0zM297.31 229.67h2.0v2.0h-2.0zM297.31 233.89h2.0v2.0h-2.0zM297.31 238.11h2.0v2.0h-2.0zM297.31 242.33h2.0v2.0h-2.0zM297.31 246.55h2.0v2.0h-2.0zM297.31 250.77h2.0v2.0h-2.0zM297.31 254.99h2.0v2.0h-2.0zM297.31 259.21h2.0v2.0h-2.0zM297.31 263.43h2.0v2.0h-2.0zM297.31 267.65h2.0v2.0h-2.0zM301.53 52.43h2.0v2.0h-2.0zM301.53 56.65h2.0v2.0h-2.0zM301.53 60.87h2.0v2.0h-2.0zM301.53 65.09h2.0v2.0h-2.0zM301.53 69.31h2.0v2.0h-2.0zM301.53 73.53h2.0v2.0h-2.0zM301.53 77.75h2.0v2.0h-2.0zM301.53 81.97h2.0v2.0h-2.0zM301.53 86.19h2.0v2.0h-2.0zM301.53 90.41h2.0v2.0h-2.0zM301.53 94.63h2.0v2.0h-2.0zM301.53 98.85h2.0v2.0h-2.0zM301.53 103.07h2.0v2.0h-2.0zM301.53 107.29h2.0v2.0h-2.0zM301.53 111.51h2.0v2.0h-2.0zM301.53 115.73h2.0v2.0h-2.0zM301.53 119.95h2.0v2.0h-2.0zM301.53 124.17h2.0v2.0h-2.0zM301.53 128.39h2.0v2.0h-2.0zM301.53 132.61h2.0v2.0h-2.0zM301.53 136.83h2.0v2.0h-2.0zM301.53 141.05h2.0v2.0h-2.0zM301.53 145.27h2.0v2.0h-2.0zM301.53 149.49h2.0v2.0h-2.0zM301.53 153.71h2.0v2.0h-2.0zM301.53 157.93h2.0v2.0h-2.0zM301.53 162.15h2.0v2.0h-2.0zM301.53 166.37h2.0v2.0h-2.0zM301.53 170.59h2.0v2.0h-2.0zM301.53 174.81h2.0v2.0h-2.0zM301.53 179.03h2.0v2.0h-2.0zM301.53 183.25h2.0v2.0h-2.0zM301.53 187.47h2.0v2.0h-2.0zM301.53 191.69h2.0v2.0h-2.0zM301.53 195.91h2.0v2.0h-2.0zM301.53 200.13h2.0v2.0h-2.0zM301.53 204.35h2.0v2.0h-2.0zM301.53 208.57h2.0v2.0h-2.0zM301.53 212.79h2.0v2.0h-2.0zM301.53 217.01h2.0v2.0h-2.0zM301.53 221.23h2.0v2.0h-2.0zM301.53 225.45h2.0v2.0h-2.0zM301.53 229.67h2.0v2.0h-2.0zM301.53 233.89h2.0v2.0h-2.0zM301.53 238.11h2.0v2.0h-2.0zM301.53 242.33h2.0v2.0h-2.0zM301.53 246.55h2.0v2.0h-2.0zM301.53 250.77h2.0v2.0h-2.0zM301.53 254.99h2.0v2.0h-2.0zM301.53 259.21h2.0v2.0h-2.0zM301.53 263.43h2.0v2.0h-2.0zM301.53 267.65h2.0v2.0h-2.0zM305.75 52.43h2.0v2.0h-2.0zM305.75 56.65h2.0v2.0h-2.0zM305.75 60.87h2.0v2.0h-2.0zM305.75 65.09h2.0v2.0h-2.0zM305.75 69.31h2.0v2.0h-2.0zM305.75 73.53h2.0v2.0h-2.0zM305.75 77.75h2.0v2.0h-2.0zM305.75 81.97h2.0v2.0h-2.0zM305.75 86.19h2.0v2.0h-2.0zM305.75 90.41h2.0v2.0h-2.0zM305.75 94.63h2.0v2.0h-2.0zM305.75 98.85h2.0v2.0h-2.0zM305.75 103.07h2.0v2.0h-2.0zM305.75 107.29h2.0v2.0h-2.0zM305.75 111.51h2.0v2.0h-2.0zM305.75 115.73h2.0v2.0h-2.0zM305.75 119.95h2.0v2.0h-2.0zM305.75 124.17h2.0v2.0h-2.0zM305.75 128.39h2.0v2.0h-2.0zM305.75 132.61h2.0v2.0h-2.0zM305.75 136.83h2.0v2.0h-2.0zM305.75 141.05h2.0v2.0h-2.0zM305.75 145.27h2.0v2.0h-2.0zM305.75 149.49h2.0v2.0h-2.0zM305.75 153.71h2.0v2.0h-2.0zM305.75 157.93h2.0v2.0h-2.0zM305.75 162.15h2.0v2.0h-2.0zM305.75 166.37h2.0v2.0h-2.0zM305.75 170.59h2.0v2.0h-2.0zM305.75 174.81h2.0v2.0h-2.0zM305.75 179.03h2.0v2.0h-2.0zM305.75 183.25h2.0v2.0h-2.0zM305.75 187.47h2.0v2.0h-2.0zM305.75 191.69h2.0v2.0h-2.0zM305.75 195.91h2.0v2.0h-2.0zM305.75 200.13h2.0v2.0h-2.0zM305.75 204.35h2.0v2.0h-2.0zM305.75 208.57h2.0v2.0h-2.0zM305.75 212.79h2.0v2.0h-2.0zM305.75 217.01h2.0v2.0h-2.0zM305.75 221.23h2.0v2.0h-2.0zM305.75 225.45h2.0v2.0h-2.0zM305.75 229.67h2.0v2.0h-2.0zM305.75 233.89h2.0v2.0h-2.0zM305.75 238.11h2.0v2.0h-2.0zM305.75 242.33h2.0v2.0h-2.0zM305.75 246.55h2.0v2.0h-2.0zM305.75 250.77h2.0v2.0h-2.0zM305.75 254.99h2.0v2.0h-2.0zM305.75 259.21h2.0v2.0h-2.0zM305.75 263.43h2.0v2.0h-2.0zM305.75 267.65h2.0v2.0h-2.0zM309.97 52.43h2.0v2.0h-2.0zM309.97 56.65h2.0v2.0h-2.0zM309.97 60.87h2.0v2.0h-2.0zM309.97 65.09h2.0v2.0h-2.0zM309.97 69.31h2.0v2.0h-2.0zM309.97 73.53h2.0v2.0h-2.0zM309.97 77.75h2.0v2.0h-2.0zM309.97 81.97h2.0v2.0h-2.0zM309.97 86.19h2.0v2.0h-2.0zM309.97 90.41h2.0v2.0h-2.0zM309.97 94.63h2.0v2.0h-2.0zM309.97 98.85h2.0v2.0h-2.0zM309.97 103.07h2.0v2.0h-2.0zM309.97 107.29h2.0v2.0h-2.0zM309.97 111.51h2.0v2.0h-2.0zM309.97 115.73h2.0v2.0h-2.0zM309.97 119.95h2.0v2.0h-2.0zM309.97 124.17h2.0v2.0h-2.0zM309.97 128.39h2.0v2.0h-2.0zM309.97 132.61h2.0v2.0h-2.0zM309.97 136.83h2.0v2.0h-2.0zM309.97 141.05h2.0v2.0h-2.0zM309.97 145.27h2.0v2.0h-2.0zM309.97 149.49h2.0v2.0h-2.0zM309.97 153.71h2.0v2.0h-2.0zM309.97 157.93h2.0v2.0h-2.0zM309.97 162.15h2.0v2.0h-2.0zM309.97 166.37h2.0v2.0h-2.0zM309.97 170.59h2.0v2.0h-2.0zM309.97 174.81h2.0v2.0h-2.0zM309.97 179.03h2.0v2.0h-2.0zM309.97 183.25h2.0v2.0h-2.0zM309.97 187.47h2.0v2.0h-2.0zM309.97 191.69h2.0v2.0h-2.0zM309.97 195.91h2.0v2.0h-2.0zM309.97 200.13h2.0v2.0h-2.0zM309.97 204.35h2.0v2.0h-2.0zM309.97 208.57h2.0v2.0h-2.0zM309.97 212.79h2.0v2.0h-2.0zM309.97 217.01h2.0v2.0h-2.0zM309.97 221.23h2.0v2.0h-2.0zM309.97 225.45h2.0v2.0h-2.0zM309.97 229.67h2.0v2.0h-2.0zM309.97 233.89h2.0v2.0h-2.0zM309.97 238.11h2.0v2.0h-2.0zM309.97 242.33h2.0v2.0h-2.0zM309.97 246.55h2.0v2.0h-2.0zM309.97 250.77h2.0v2.0h-2.0zM309.97 254.99h2.0v2.0h-2.0zM309.97 259.21h2.0v2.0h-2.0zM309.97 263.43h2.0v2.0h-2.0zM309.97 267.65h2.0v2.0h-2.0zM314.19 52.43h2.0v2.0h-2.0zM314.19 56.65h2.0v2.0h-2.0zM314.19 60.87h2.0v2.0h-2.0zM314.19 65.09h2.0v2.0h-2.0zM314.19 69.31h2.0v2.0h-2.0zM314.19 73.53h2.0v2.0h-2.0zM314.19 77.75h2.0v2.0h-2.0zM314.19 81.97h2.0v2.0h-2.0zM314.19 86.19h2.0v2.0h-2.0zM314.19 90.41h2.0v2.0h-2.0zM314.19 94.63h2.0v2.0h-2.0zM314.19 98.85h2.0v2.0h-2.0zM314.19 103.07h2.0v2.0h-2.0zM314.19 107.29h2.0v2.0h-2.0zM314.19 111.51h2.0v2.0h-2.0zM314.19 115.73h2.0v2.0h-2.0zM314.19 119.95h2.0v2.0h-2.0zM314.19 124.17h2.0v2.0h-2.0zM314.19 128.39h2.0v2.0h-2.0zM314.19 132.61h2.0v2.0h-2.0zM314.19 136.83h2.0v2.0h-2.0zM314.19 141.05h2.0v2.0h-2.0zM314.19 145.27h2.0v2.0h-2.0zM314.19 149.49h2.0v2.0h-2.0zM314.19 153.71h2.0v2.0h-2.0zM314.19 157.93h2.0v2.0h-2.0zM314.19 162.15h2.0v2.0h-2.0zM314.19 166.37h2.0v2.0h-2.0zM314.19 170.59h2.0v2.0h-2.0zM314.19 174.81h2.0v2.0h-2.0zM314.19 179.03h2.0v2.0h-2.0zM314.19 183.25h2.0v2.0h-2.0zM314.19 187.47h2.0v2.0h-2.0zM314.19 191.69h2.0v2.0h-2.0zM314.19 195.91h2.0v2.0h-2.0zM314.19 200.13h2.0v2.0h-2.0zM314.19 204.35h2.0v2.0h-2.0zM314.19 208.57h2.0v2.0h-2.0zM314.19 212.79h2.0v2.0h-2.0zM314.19 217.01h2.0v2.0h-2.0zM314.19 221.23h2.0v2.0h-2.0zM314.19 225.45h2.0v2.0h-2.0zM314.19 229.67h2.0v2.0h-2.0zM314.19 233.89h2.0v2.0h-2.0zM314.19 238.11h2.0v2.0h-2.0zM314.19 242.33h2.0v2.0h-2.0zM314.19 246.55h2.0v2.0h-2.0zM314.19 250.77h2.0v2.0h-2.0zM314.19 254.99h2.0v2.0h-2.0zM314.19 259.21h2.0v2.0h-2.0zM314.19 263.43h2.0v2.0h-2.0zM314.19 267.65h2.0v2.0h-2.0zM318.41 52.43h2.0v2.0h-2.0zM318.41 56.65h2.0v2.0h-2.0zM318.41 60.87h2.0v2.0h-2.0zM318.41 65.09h2.0v2.0h-2.0zM318.41 69.31h2.0v2.0h-2.0zM318.41 73.53h2.0v2.0h-2.0zM318.41 77.75h2.0v2.0h-2.0zM318.41 81.97h2.0v2.0h-2.0zM318.41 86.19h2.0v2.0h-2.0zM318.41 90.41h2.0v2.0h-2.0zM318.41 94.63h2.0v2.0h-2.0zM318.41 98.85h2.0v2.0h-2.0zM318.41 103.07h2.0v2.0h-2.0zM318.41 107.29h2.0v2.0h-2.0zM318.41 111.51h2.0v2.0h-2.0zM318.41 115.73h2.0v2.0h-2.0zM318.41 119.95h2.0v2.0h-2.0zM318.41 124.17h2.0v2.0h-2.0zM318.41 128.39h2.0v2.0h-2.0zM318.41 132.61h2.0v2.0h-2.0zM318.41 136.83h2.0v2.0h-2.0zM318.41 141.05h2.0v2.0h-2.0zM318.41 145.27h2.0v2.0h-2.0zM318.41 149.49h2.0v2.0h-2.0zM318.41 153.71h2.0v2.0h-2.0zM318.41 157.93h2.0v2.0h-2.0zM318.41 162.15h2.0v2.0h-2.0zM318.41 166.37h2.0v2.0h-2.0zM318.41 170.59h2.0v2.0h-2.0zM318.41 174.81h2.0v2.0h-2.0zM318.41 179.03h2.0v2.0h-2.0zM318.41 183.25h2.0v2.0h-2.0zM318.41 187.47h2.0v2.0h-2.0zM318.41 191.69h2.0v2.0h-2.0zM318.41 195.91h2.0v2.0h-2.0zM318.41 200.13h2.0v2.0h-2.0zM318.41 204.35h2.0v2.0h-2.0zM318.41 208.57h2.0v2.0h-2.0zM318.41 212.79h2.0v2.0h-2.0zM318.41 217.01h2.0v2.0h-2.0zM318.41 221.23h2.0v2.0h-2.0zM318.41 225.45h2.0v2.0h-2.0zM318.41 229.67h2.0v2.0h-2.0zM318.41 233.89h2.0v2.0h-2.0zM318.41 238.11h2.0v2.0h-2.0zM318.41 242.33h2.0v2.0h-2.0zM318.41 246.55h2.0v2.0h-2.0zM318.41 250.77h2.0v2.0h-2.0zM318.41 254.99h2.0v2.0h-2.0zM318.41 259.21h2.0v2.0h-2.0zM318.41 263.43h2.0v2.0h-2.0zM318.41 267.65h2.0v2.0h-2.0zM322.63 52.43h2.0v2.0h-2.0zM322.63 56.65h2.0v2.0h-2.0zM322.63 60.87h2.0v2.0h-2.0zM322.63 65.09h2.0v2.0h-2.0zM322.63 69.31h2.0v2.0h-2.0zM322.63 73.53h2.0v2.0h-2.0zM322.63 77.75h2.0v2.0h-2.0zM322.63 81.97h2.0v2.0h-2.0zM322.63 86.19h2.0v2.0h-2.0zM322.63 90.41h2.0v2.0h-2.0zM322.63 94.63h2.0v2.0h-2.0zM322.63 98.85h2.0v2.0h-2.0zM322.63 103.07h2.0v2.0h-2.0zM322.63 107.29h2.0v2.0h-2.0zM322.63 111.51h2.0v2.0h-2.0zM322.63 115.73h2.0v2.0h-2.0zM322.63 119.95h2.0v2.0h-2.0zM322.63 124.17h2.0v2.0h-2.0zM322.63 128.39h2.0v2.0h-2.0zM322.63 132.61h2.0v2.0h-2.0zM322.63 136.83h2.0v2.0h-2.0zM322.63 141.05h2.0v2.0h-2.0zM322.63 145.27h2.0v2.0h-2.0zM322.63 149.49h2.0v2.0h-2.0zM322.63 153.71h2.0v2.0h-2.0zM322.63 157.93h2.0v2.0h-2.0zM322.63 162.15h2.0v2.0h-2.0zM322.63 166.37h2.0v2.0h-2.0zM322.63 170.59h2.0v2.0h-2.0zM322.63 174.81h2.0v2.0h-2.0zM322.63 179.03h2.0v2.0h-2.0zM322.63 183.25h2.0v2.0h-2.0zM322.63 187.47h2.0v2.0h-2.0zM322.63 191.69h2.0v2.0h-2.0zM322.63 195.91h2.0v2.0h-2.0zM322.63 200.13h2.0v2.0h-2.0zM322.63 204.35h2.0v2.0h-2.0zM322.63 208.57h2.0v2.0h-2.0zM322.63 212.79h2.0v2.0h-2.0zM322.63 217.01h2.0v2.0h-2.0zM322.63 221.23h2.0v2.0h-2.0zM322.63 225.45h2.0v2.0h-2.0zM322.63 229.67h2.0v2.0h-2.0zM322.63 233.89h2.0v2.0h-2.0zM322.63 238.11h2.0v2.0h-2.0zM322.63 242.33h2.0v2.0h-2.0zM322.63 246.55h2.0v2.0h-2.0zM322.63 250.77h2.0v2.0h-2.0zM322.63 254.99h2.0v2.0h-2.0zM322.63 259.21h2.0v2.0h-2.0zM322.63 263.43h2.0v2.0h-2.0zM322.63 267.65h2.0v2.0h-2.0zM326.85 52.43h2.0v2.0h-2.0zM326.85 56.65h2.0v2.0h-2.0zM326.85 60.87h2.0v2.0h-2.0zM326.85 65.09h2.0v2.0h-2.0zM326.85 69.31h2.0v2.0h-2.0zM326.85 73.53h2.0v2.0h-2.0zM326.85 77.75h2.0v2.0h-2.0zM326.85 81.97h2.0v2.0h-2.0zM326.85 86.19h2.0v2.0h-2.0zM326.85 90.41h2.0v2.0h-2.0zM326.85 94.63h2.0v2.0h-2.0zM326.85 98.85h2.0v2.0h-2.0zM326.85 103.07h2.0v2.0h-2.0zM326.85 107.29h2.0v2.0h-2.0zM326.85 111.51h2.0v2.0h-2.0zM326.85 115.73h2.0v2.0h-2.0zM326.85 119.95h2.0v2.0h-2.0zM326.85 124.17h2.0v2.0h-2.0zM326.85 128.39h2.0v2.0h-2.0zM326.85 132.61h2.0v2.0h-2.0zM326.85 136.83h2.0v2.0h-2.0zM326.85 141.05h2.0v2.0h-2.0zM326.85 145.27h2.0v2.0h-2.0zM326.85 149.49h2.0v2.0h-2.0zM326.85 153.71h2.0v2.0h-2.0zM326.85 157.93h2.0v2.0h-2.0zM326.85 162.15h2.0v2.0h-2.0zM326.85 166.37h2.0v2.0h-2.0zM326.85 170.59h2.0v2.0h-2.0zM326.85 174.81h2.0v2.0h-2.0zM326.85 179.03h2.0v2.0h-2.0zM326.85 183.25h2.0v2.0h-2.0zM326.85 187.47h2.0v2.0h-2.0zM326.85 191.69h2.0v2.0h-2.0zM326.85 195.91h2.0v2.0h-2.0zM326.85 200.13h2.0v2.0h-2.0zM326.85 204.35h2.0v2.0h-2.0zM326.85 208.57h2.0v2.0h-2.0zM326.85 212.79h2.0v2.0h-2.0zM326.85 217.01h2.0v2.0h-2.0zM326.85 221.23h2.0v2.0h-2.0zM326.85 225.45h2.0v2.0h-2.0zM326.85 229.67h2.0v2.0h-2.0zM326.85 233.89h2.0v2.0h-2.0zM326.85 238.11h2.0v2.0h-2.0zM326.85 242.33h2.0v2.0h-2.0zM326.85 246.55h2.0v2.0h-2.0zM326.85 250.77h2.0v2.0h-2.0zM326.85 254.99h2.0v2.0h-2.0zM326.85 259.21h2.0v2.0h-2.0zM326.85 263.43h2.0v2.0h-2.0zM326.85 267.65h2.0v2.0h-2.0zM331.07 52.43h2.0v2.0h-2.0zM331.07 56.65h2.0v2.0h-2.0zM331.07 60.87h2.0v2.0h-2.0zM331.07 65.09h2.0v2.0h-2.0zM331.07 69.31h2.0v2.0h-2.0zM331.07 73.53h2.0v2.0h-2.0zM331.07 77.75h2.0v2.0h-2.0zM331.07 81.97h2.0v2.0h-2.0zM331.07 86.19h2.0v2.0h-2.0zM331.07 90.41h2.0v2.0h-2.0zM331.07 94.63h2.0v2.0h-2.0zM331.07 98.85h2.0v2.0h-2.0zM331.07 103.07h2.0v2.0h-2.0zM331.07 107.29h2.0v2.0h-2.0zM331.07 111.51h2.0v2.0h-2.0zM331.07 115.73h2.0v2.0h-2.0zM331.07 119.95h2.0v2.0h-2.0zM331.07 124.17h2.0v2.0h-2.0zM331.07 128.39h2.0v2.0h-2.0zM331.07 132.61h2.0v2.0h-2.0zM331.07 136.83h2.0v2.0h-2.0zM331.07 141.05h2.0v2.0h-2.0zM331.07 145.27h2.0v2.0h-2.0zM331.07 149.49h2.0v2.0h-2.0zM331.07 153.71h2.0v2.0h-2.0zM331.07 157.93h2.0v2.0h-2.0zM331.07 162.15h2.0v2.0h-2.0zM331.07 166.37h2.0v2.0h-2.0zM331.07 170.59h2.0v2.0h-2.0zM331.07 174.81h2.0v2.0h-2.0zM331.07 179.03h2.0v2.0h-2.0zM331.07 183.25h2.0v2.0h-2.0zM331.07 187.47h2.0v2.0h-2.0zM331.07 191.69h2.0v2.0h-2.0zM331.07 195.91h2.0v2.0h-2.0zM331.07 200.13h2.0v2.0h-2.0zM331.07 204.35h2.0v2.0h-2.0zM331.07 208.57h2.0v2.0h-2.0zM331.07 212.79h2.0v2.0h-2.0zM331.07 217.01h2.0v2.0h-2.0zM331.07 221.23h2.0v2.0h-2.0zM331.07 225.45h2.0v2.0h-2.0zM331.07 229.67h2.0v2.0h-2.0zM331.07 233.89h2.0v2.0h-2.0zM331.07 238.11h2.0v2.0h-2.0zM331.07 242.33h2.0v2.0h-2.0zM331.07 246.55h2.0v2.0h-2.0zM331.07 250.77h2.0v2.0h-2.0zM331.07 254.99h2.0v2.0h-2.0zM331.07 259.21h2.0v2.0h-2.0zM331.07 263.43h2.0v2.0h-2.0zM331.07 267.65h2.0v2.0h-2.0zM335.29 52.43h2.0v2.0h-2.0zM335.29 56.65h2.0v2.0h-2.0zM335.29 60.87h2.0v2.0h-2.0zM335.29 65.09h2.0v2.0h-2.0zM335.29 69.31h2.0v2.0h-2.0zM335.29 73.53h2.0v2.0h-2.0zM335.29 77.75h2.0v2.0h-2.0zM335.29 81.97h2.0v2.0h-2.0zM335.29 86.19h2.0v2.0h-2.0zM335.29 90.41h2.0v2.0h-2.0zM335.29 94.63h2.0v2.0h-2.0zM335.29 98.85h2.0v2.0h-2.0zM335.29 103.07h2.0v2.0h-2.0zM335.29 107.29h2.0v2.0h-2.0zM335.29 111.51h2.0v2.0h-2.0zM335.29 115.73h2.0v2.0h-2.0zM335.29 119.95h2.0v2.0h-2.0zM335.29 124.17h2.0v2.0h-2.0zM335.29 128.39h2.0v2.0h-2.0zM335.29 132.61h2.0v2.0h-2.0zM335.29 136.83h2.0v2.0h-2.0zM335.29 141.05h2.0v2.0h-2.0zM335.29 145.27h2.0v2.0h-2.0zM335.29 149.49h2.0v2.0h-2.0zM335.29 153.71h2.0v2.0h-2.0zM335.29 157.93h2.0v2.0h-2.0zM335.29 162.15h2.0v2.0h-2.0zM335.29 166.37h2.0v2.0h-2.0zM335.29 170.59h2.0v2.0h-2.0zM335.29 174.81h2.0v2.0h-2.0zM335.29 179.03h2.0v2.0h-2.0zM335.29 183.25h2.0v2.0h-2.0zM335.29 187.47h2.0v2.0h-2.0zM335.29 191.69h2.0v2.0h-2.0zM335.29 195.91h2.0v2.0h-2.0zM335.29 200.13h2.0v2.0h-2.0zM335.29 204.35h2.0v2.0h-2.0zM335.29 208.57h2.0v2.0h-2.0zM335.29 212.79h2.0v2.0h-2.0zM335.29 217.01h2.0v2.0h-2.0zM335.29 221.23h2.0v2.0h-2.0zM335.29 225.45h2.0v2.0h-2.0zM335.29 229.67h2.0v2.0h-2.0zM335.29 233.89h2.0v2.0h-2.0zM335.29 238.11h2.0v2.0h-2.0zM335.29 242.33h2.0v2.0h-2.0zM335.29 246.55h2.0v2.0h-2.0zM335.29 250.77h2.0v2.0h-2.0zM335.29 254.99h2.0v2.0h-2.0zM335.29 259.21h2.0v2.0h-2.0zM335.29 263.43h2.0v2.0h-2.0zM335.29 267.65h2.0v2.0h-2.0zM339.51 52.43h2.0v2.0h-2.0zM339.51 56.65h2.0v2.0h-2.0zM339.51 60.87h2.0v2.0h-2.0zM339.51 65.09h2.0v2.0h-2.0zM339.51 69.31h2.0v2.0h-2.0zM339.51 73.53h2.0v2.0h-2.0zM339.51 77.75h2.0v2.0h-2.0zM339.51 81.97h2.0v2.0h-2.0zM339.51 86.19h2.0v2.0h-2.0zM339.51 90.41h2.0v2.0h-2.0zM339.51 94.63h2.0v2.0h-2.0zM339.51 98.85h2.0v2.0h-2.0zM339.51 103.07h2.0v2.0h-2.0zM339.51 107.29h2.0v2.0h-2.0zM339.51 111.51h2.0v2.0h-2.0zM339.51 115.73h2.0v2.0h-2.0zM339.51 119.95h2.0v2.0h-2.0zM339.51 124.17h2.0v2.0h-2.0zM339.51 128.39h2.0v2.0h-2.0zM339.51 132.61h2.0v2.0h-2.0zM339.51 136.83h2.0v2.0h-2.0zM339.51 141.05h2.0v2.0h-2.0zM339.51 145.27h2.0v2.0h-2.0zM339.51 149.49h2.0v2.0h-2.0zM339.51 153.71h2.0v2.0h-2.0zM339.51 157.93h2.0v2.0h-2.0zM339.51 162.15h2.0v2.0h-2.0zM339.51 166.37h2.0v2.0h-2.0zM339.51 170.59h2.0v2.0h-2.0zM339.51 174.81h2.0v2.0h-2.0zM339.51 179.03h2.0v2.0h-2.0zM339.51 183.25h2.0v2.0h-2.0zM339.51 187.47h2.0v2.0h-2.0zM339.51 191.69h2.0v2.0h-2.0zM339.51 195.91h2.0v2.0h-2.0zM339.51 200.13h2.0v2.0h-2.0zM339.51 204.35h2.0v2.0h-2.0zM339.51 208.57h2.0v2.0h-2.0zM339.51 212.79h2.0v2.0h-2.0zM339.51 217.01h2.0v2.0h-2.0zM339.51 221.23h2.0v2.0h-2.0zM339.51 225.45h2.0v2.0h-2.0zM339.51 229.67h2.0v2.0h-2.0zM339.51 233.89h2.0v2.0h-2.0zM339.51 238.11h2.0v2.0h-2.0zM339.51 242.33h2.0v2.0h-2.0zM339.51 246.55h2.0v2.0h-2.0zM339.51 250.77h2.0v2.0h-2.0zM339.51 254.99h2.0v2.0h-2.0zM339.51 259.21h2.0v2.0h-2.0zM339.51 263.43h2.0v2.0h-2.0zM339.51 267.65h2.0v2.0h-2.0zM343.73 52.43h2.0v2.0h-2.0zM343.73 56.65h2.0v2.0h-2.0zM343.73 60.87h2.0v2.0h-2.0zM343.73 65.09h2.0v2.0h-2.0zM343.73 69.31h2.0v2.0h-2.0zM343.73 73.53h2.0v2.0h-2.0zM343.73 77.75h2.0v2.0h-2.0zM343.73 81.97h2.0v2.0h-2.0zM343.73 86.19h2.0v2.0h-2.0zM343.73 90.41h2.0v2.0h-2.0zM343.73 94.63h2.0v2.0h-2.0zM343.73 98.85h2.0v2.0h-2.0zM343.73 103.07h2.0v2.0h-2.0zM343.73 107.29h2.0v2.0h-2.0zM343.73 111.51h2.0v2.0h-2.0zM343.73 115.73h2.0v2.0h-2.0zM343.73 119.95h2.0v2.0h-2.0zM343.73 124.17h2.0v2.0h-2.0zM343.73 128.39h2.0v2.0h-2.0zM343.73 132.61h2.0v2.0h-2.0zM343.73 136.83h2.0v2.0h-2.0zM343.73 141.05h2.0v2.0h-2.0zM343.73 145.27h2.0v2.0h-2.0zM343.73 149.49h2.0v2.0h-2.0zM343.73 153.71h2.0v2.0h-2.0zM343.73 157.93h2.0v2.0h-2.0zM343.73 162.15h2.0v2.0h-2.0zM343.73 166.37h2.0v2.0h-2.0zM343.73 170.59h2.0v2.0h-2.0zM343.73 174.81h2.0v2.0h-2.0zM343.73 179.03h2.0v2.0h-2.0zM343.73 183.25h2.0v2.0h-2.0zM343.73 187.47h2.0v2.0h-2.0zM343.73 191.69h2.0v2.0h-2.0zM343.73 195.91h2.0v2.0h-2.0zM343.73 200.13h2.0v2.0h-2.0zM343.73 204.35h2.0v2.0h-2.0zM343.73 208.57h2.0v2.0h-2.0zM343.73 212.79h2.0v2.0h-2.0zM343.73 217.01h2.0v2.0h-2.0zM343.73 221.23h2.0v2.0h-2.0zM343.73 225.45h2.0v2.0h-2.0zM343.73 229.67h2.0v2.0h-2.0zM343.73 233.89h2.0v2.0h-2.0zM343.73 238.11h2.0v2.0h-2.0zM343.73 242.33h2.0v2.0h-2.0zM343.73 246.55h2.0v2.0h-2.0zM343.73 250.77h2.0v2.0h-2.0zM343.73 254.99h2.0v2.0h-2.0zM343.73 259.21h2.0v2.0h-2.0zM343.73 263.43h2.0v2.0h-2.0zM343.73 267.65h2.0v2.0h-2.0zM347.95 52.43h2.0v2.0h-2.0zM347.95 56.65h2.0v2.0h-2.0zM347.95 60.87h2.0v2.0h-2.0zM347.95 65.09h2.0v2.0h-2.0zM347.95 69.31h2.0v2.0h-2.0zM347.95 73.53h2.0v2.0h-2.0zM347.95 77.75h2.0v2.0h-2.0zM347.95 81.97h2.0v2.0h-2.0zM347.95 86.19h2.0v2.0h-2.0zM347.95 90.41h2.0v2.0h-2.0zM347.95 94.63h2.0v2.0h-2.0zM347.95 98.85h2.0v2.0h-2.0zM347.95 103.07h2.0v2.0h-2.0zM347.95 107.29h2.0v2.0h-2.0zM347.95 111.51h2.0v2.0h-2.0zM347.95 115.73h2.0v2.0h-2.0zM347.95 119.95h2.0v2.0h-2.0zM347.95 124.17h2.0v2.0h-2.0zM347.95 128.39h2.0v2.0h-2.0zM347.95 132.61h2.0v2.0h-2.0zM347.95 136.83h2.0v2.0h-2.0zM347.95 141.05h2.0v2.0h-2.0zM347.95 145.27h2.0v2.0h-2.0zM347.95 149.49h2.0v2.0h-2.0zM347.95 153.71h2.0v2.0h-2.0zM347.95 157.93h2.0v2.0h-2.0zM347.95 162.15h2.0v2.0h-2.0zM347.95 166.37h2.0v2.0h-2.0zM347.95 170.59h2.0v2.0h-2.0zM347.95 174.81h2.0v2.0h-2.0zM347.95 179.03h2.0v2.0h-2.0zM347.95 183.25h2.0v2.0h-2.0zM347.95 187.47h2.0v2.0h-2.0zM347.95 191.69h2.0v2.0h-2.0zM347.95 195.91h2.0v2.0h-2.0zM347.95 200.13h2.0v2.0h-2.0zM347.95 204.35h2.0v2.0h-2.0zM347.95 208.57h2.0v2.0h-2.0zM347.95 212.79h2.0v2.0h-2.0zM347.95 217.01h2.0v2.0h-2.0zM347.95 221.23h2.0v2.0h-2.0zM347.95 225.45h2.0v2.0h-2.0zM347.95 229.67h2.0v2.0h-2.0zM347.95 233.89h2.0v2.0h-2.0zM347.95 238.11h2.0v2.0h-2.0zM347.95 242.33h2.0v2.0h-2.0zM347.95 246.55h2.0v2.0h-2.0zM347.95 250.77h2.0v2.0h-2.0zM347.95 254.99h2.0v2.0h-2.0zM347.95 259.21h2.0v2.0h-2.0zM347.95 263.43h2.0v2.0h-2.0zM347.95 267.65h2.0v2.0h-2.0zM352.17 52.43h2.0v2.0h-2.0zM352.17 56.65h2.0v2.0h-2.0zM352.17 60.87h2.0v2.0h-2.0zM352.17 65.09h2.0v2.0h-2.0zM352.17 69.31h2.0v2.0h-2.0zM352.17 73.53h2.0v2.0h-2.0zM352.17 77.75h2.0v2.0h-2.0zM352.17 81.97h2.0v2.0h-2.0zM352.17 86.19h2.0v2.0h-2.0zM352.17 90.41h2.0v2.0h-2.0zM352.17 94.63h2.0v2.0h-2.0zM352.17 98.85h2.0v2.0h-2.0zM352.17 103.07h2.0v2.0h-2.0zM352.17 107.29h2.0v2.0h-2.0zM352.17 111.51h2.0v2.0h-2.0zM352.17 115.73h2.0v2.0h-2.0zM352.17 119.95h2.0v2.0h-2.0zM352.17 124.17h2.0v2.0h-2.0zM352.17 128.39h2.0v2.0h-2.0zM352.17 132.61h2.0v2.0h-2.0zM352.17 136.83h2.0v2.0h-2.0zM352.17 141.05h2.0v2.0h-2.0zM352.17 145.27h2.0v2.0h-2.0zM352.17 149.49h2.0v2.0h-2.0zM352.17 153.71h2.0v2.0h-2.0zM352.17 157.93h2.0v2.0h-2.0zM352.17 162.15h2.0v2.0h-2.0zM352.17 166.37h2.0v2.0h-2.0zM352.17 170.59h2.0v2.0h-2.0zM352.17 174.81h2.0v2.0h-2.0zM352.17 179.03h2.0v2.0h-2.0zM352.17 183.25h2.0v2.0h-2.0zM352.17 187.47h2.0v2.0h-2.0zM352.17 191.69h2.0v2.0h-2.0zM352.17 195.91h2.0v2.0h-2.0zM352.17 200.13h2.0v2.0h-2.0zM352.17 204.35h2.0v2.0h-2.0zM352.17 208.57h2.0v2.0h-2.0zM352.17 212.79h2.0v2.0h-2.0zM352.17 217.01h2.0v2.0h-2.0zM352.17 221.23h2.0v2.0h-2.0zM352.17 225.45h2.0v2.0h-2.0zM352.17 229.67h2.0v2.0h-2.0zM352.17 233.89h2.0v2.0h-2.0zM352.17 238.11h2.0v2.0h-2.0zM352.17 242.33h2.0v2.0h-2.0zM352.17 246.55h2.0v2.0h-2.0zM352.17 250.77h2.0v2.0h-2.0zM352.17 254.99h2.0v2.0h-2.0zM352.17 259.21h2.0v2.0h-2.0zM352.17 263.43h2.0v2.0h-2.0zM352.17 267.65h2.0v2.0h-2.0zM356.39 52.43h2.0v2.0h-2.0zM356.39 56.65h2.0v2.0h-2.0zM356.39 60.87h2.0v2.0h-2.0zM356.39 65.09h2.0v2.0h-2.0zM356.39 69.31h2.0v2.0h-2.0zM356.39 73.53h2.0v2.0h-2.0zM356.39 77.75h2.0v2.0h-2.0zM356.39 81.97h2.0v2.0h-2.0zM356.39 86.19h2.0v2.0h-2.0zM356.39 90.41h2.0v2.0h-2.0zM356.39 94.63h2.0v2.0h-2.0zM356.39 98.85h2.0v2.0h-2.0zM356.39 103.07h2.0v2.0h-2.0zM356.39 107.29h2.0v2.0h-2.0zM356.39 111.51h2.0v2.0h-2.0zM356.39 115.73h2.0v2.0h-2.0zM356.39 119.95h2.0v2.0h-2.0zM356.39 124.17h2.0v2.0h-2.0zM356.39 128.39h2.0v2.0h-2.0zM356.39 132.61h2.0v2.0h-2.0zM356.39 136.83h2.0v2.0h-2.0zM356.39 141.05h2.0v2.0h-2.0zM356.39 145.27h2.0v2.0h-2.0zM356.39 149.49h2.0v2.0h-2.0zM356.39 153.71h2.0v2.0h-2.0zM356.39 157.93h2.0v2.0h-2.0zM356.39 162.15h2.0v2.0h-2.0zM356.39 166.37h2.0v2.0h-2.0zM356.39 170.59h2.0v2.0h-2.0zM356.39 174.81h2.0v2.0h-2.0zM356.39 179.03h2.0v2.0h-2.0zM356.39 183.25h2.0v2.0h-2.0zM356.39 187.47h2.0v2.0h-2.0zM356.39 191.69h2.0v2.0h-2.0zM356.39 195.91h2.0v2.0h-2.0zM356.39 200.13h2.0v2.0h-2.0zM356.39 204.35h2.0v2.0h-2.0zM356.39 208.57h2.0v2.0h-2.0zM356.39 212.79h2.0v2.0h-2.0zM356.39 217.01h2.0v2.0h-2.0zM356.39 221.23h2.0v2.0h-2.0zM356.39 225.45h2.0v2.0h-2.0zM356.39 229.67h2.0v2.0h-2.0zM356.39 233.89h2.0v2.0h-2.0zM356.39 238.11h2.0v2.0h-2.0zM356.39 242.33h2.0v2.0h-2.0zM356.39 246.55h2.0v2.0h-2.0zM356.39 250.77h2.0v2.0h-2.0zM356.39 254.99h2.0v2.0h-2.0zM356.39 259.21h2.0v2.0h-2.0zM356.39 263.43h2.0v2.0h-2.0zM356.39 267.65h2.0v2.0h-2.0zM360.61 52.43h2.0v2.0h-2.0zM360.61 56.65h2.0v2.0h-2.0zM360.61 60.87h2.0v2.0h-2.0zM360.61 65.09h2.0v2.0h-2.0zM360.61 69.31h2.0v2.0h-2.0zM360.61 73.53h2.0v2.0h-2.0zM360.61 77.75h2.0v2.0h-2.0zM360.61 81.97h2.0v2.0h-2.0zM360.61 86.19h2.0v2.0h-2.0zM360.61 90.41h2.0v2.0h-2.0zM360.61 94.63h2.0v2.0h-2.0zM360.61 98.85h2.0v2.0h-2.0zM360.61 103.07h2.0v2.0h-2.0zM360.61 107.29h2.0v2.0h-2.0zM360.61 111.51h2.0v2.0h-2.0zM360.61 115.73h2.0v2.0h-2.0zM360.61 119.95h2.0v2.0h-2.0zM360.61 124.17h2.0v2.0h-2.0zM360.61 128.39h2.0v2.0h-2.0zM360.61 132.61h2.0v2.0h-2.0zM360.61 136.83h2.0v2.0h-2.0zM360.61 141.05h2.0v2.0h-2.0zM360.61 145.27h2.0v2.0h-2.0zM360.61 149.49h2.0v2.0h-2.0zM360.61 153.71h2.0v2.0h-2.0zM360.61 157.93h2.0v2.0h-2.0zM360.61 162.15h2.0v2.0h-2.0zM360.61 166.37h2.0v2.0h-2.0zM360.61 170.59h2.0v2.0h-2.0zM360.61 174.81h2.0v2.0h-2.0zM360.61 179.03h2.0v2.0h-2.0zM360.61 183.25h2.0v2.0h-2.0zM360.61 187.47h2.0v2.0h-2.0zM360.61 191.69h2.0v2.0h-2.0zM360.61 195.91h2.0v2.0h-2.0zM360.61 200.13h2.0v2.0h-2.0zM360.61 204.35h2.0v2.0h-2.0zM360.61 208.57h2.0v2.0h-2.0zM360.61 212.79h2.0v2.0h-2.0zM360.61 217.01h2.0v2.0h-2.0zM360.61 221.23h2.0v2.0h-2.0zM360.61 225.45h2.0v2.0h-2.0zM360.61 229.67h2.0v2.0h-2.0zM360.61 233.89h2.0v2.0h-2.0zM360.61 238.11h2.0v2.0h-2.0zM360.61 242.33h2.0v2.0h-2.0zM360.61 246.55h2.0v2.0h-2.0zM360.61 250.77h2.0v2.0h-2.0zM360.61 254.99h2.0v2.0h-2.0zM360.61 259.21h2.0v2.0h-2.0zM360.61 263.43h2.0v2.0h-2.0zM360.61 267.65h2.0v2.0h-2.0zM364.83 52.43h2.0v2.0h-2.0zM364.83 56.65h2.0v2.0h-2.0zM364.83 60.87h2.0v2.0h-2.0zM364.83 65.09h2.0v2.0h-2.0zM364.83 69.31h2.0v2.0h-2.0zM364.83 73.53h2.0v2.0h-2.0zM364.83 77.75h2.0v2.0h-2.0zM364.83 81.97h2.0v2.0h-2.0zM364.83 86.19h2.0v2.0h-2.0zM364.83 90.41h2.0v2.0h-2.0zM364.83 94.63h2.0v2.0h-2.0zM364.83 98.85h2.0v2.0h-2.0zM364.83 103.07h2.0v2.0h-2.0zM364.83 107.29h2.0v2.0h-2.0zM364.83 111.51h2.0v2.0h-2.0zM364.83 115.73h2.0v2.0h-2.0zM364.83 119.95h2.0v2.0h-2.0zM364.83 124.17h2.0v2.0h-2.0zM364.83 128.39h2.0v2.0h-2.0zM364.83 132.61h2.0v2.0h-2.0zM364.83 136.83h2.0v2.0h-2.0zM364.83 141.05h2.0v2.0h-2.0zM364.83 145.27h2.0v2.0h-2.0zM364.83 149.49h2.0v2.0h-2.0zM364.83 153.71h2.0v2.0h-2.0zM364.83 157.93h2.0v2.0h-2.0zM364.83 162.15h2.0v2.0h-2.0zM364.83 166.37h2.0v2.0h-2.0zM364.83 170.59h2.0v2.0h-2.0zM364.83 174.81h2.0v2.0h-2.0zM364.83 179.03h2.0v2.0h-2.0zM364.83 183.25h2.0v2.0h-2.0zM364.83 187.47h2.0v2.0h-2.0zM364.83 191.69h2.0v2.0h-2.0zM364.83 195.91h2.0v2.0h-2.0zM364.83 200.13h2.0v2.0h-2.0zM364.83 204.35h2.0v2.0h-2.0zM364.83 208.57h2.0v2.0h-2.0zM364.83 212.79h2.0v2.0h-2.0zM364.83 217.01h2.0v2.0h-2.0zM364.83 221.23h2.0v2.0h-2.0zM364.83 225.45h2.0v2.0h-2.0zM364.83 229.67h2.0v2.0h-2.0zM364.83 233.89h2.0v2.0h-2.0zM364.83 238.11h2.0v2.0h-2.0zM364.83 242.33h2.0v2.0h-2.0zM364.83 246.55h2.0v2.0h-2.0zM364.83 250.77h2.0v2.0h-2.0zM364.83 254.99h2.0v2.0h-2.0zM364.83 259.21h2.0v2.0h-2.0zM364.83 263.43h2.0v2.0h-2.0zM364.83 267.65h2.0v2.0h-2.0zM369.05 52.43h2.0v2.0h-2.0zM369.05 56.65h2.0v2.0h-2.0zM369.05 60.87h2.0v2.0h-2.0zM369.05 65.09h2.0v2.0h-2.0zM369.05 69.31h2.0v2.0h-2.0zM369.05 73.53h2.0v2.0h-2.0zM369.05 77.75h2.0v2.0h-2.0zM369.05 81.97h2.0v2.0h-2.0zM369.05 86.19h2.0v2.0h-2.0zM369.05 90.41h2.0v2.0h-2.0zM369.05 94.63h2.0v2.0h-2.0zM369.05 98.85h2.0v2.0h-2.0zM369.05 103.07h2.0v2.0h-2.0zM369.05 107.29h2.0v2.0h-2.0zM369.05 111.51h2.0v2.0h-2.0zM369.05 115.73h2.0v2.0h-2.0zM369.05 119.95h2.0v2.0h-2.0zM369.05 124.17h2.0v2.0h-2.0zM369.05 128.39h2.0v2.0h-2.0zM369.05 132.61h2.0v2.0h-2.0zM369.05 136.83h2.0v2.0h-2.0zM369.05 141.05h2.0v2.0h-2.0zM369.05 145.27h2.0v2.0h-2.0zM369.05 149.49h2.0v2.0h-2.0zM369.05 153.71h2.0v2.0h-2.0zM369.05 157.93h2.0v2.0h-2.0zM369.05 162.15h2.0v2.0h-2.0zM369.05 166.37h2.0v2.0h-2.0zM369.05 170.59h2.0v2.0h-2.0zM369.05 174.81h2.0v2.0h-2.0zM369.05 179.03h2.0v2.0h-2.0zM369.05 183.25h2.0v2.0h-2.0zM369.05 187.47h2.0v2.0h-2.0zM369.05 191.69h2.0v2.0h-2.0zM369.05 195.91h2.0v2.0h-2.0zM369.05 200.13h2.0v2.0h-2.0zM369.05 204.35h2.0v2.0h-2.0zM369.05 208.57h2.0v2.0h-2.0zM369.05 212.79h2.0v2.0h-2.0zM369.05 217.01h2.0v2.0h-2.0zM369.05 221.23h2.0v2.0h-2.0zM369.05 225.45h2.0v2.0h-2.0zM369.05 229.67h2.0v2.0h-2.0zM369.05 233.89h2.0v2.0h-2.0zM369.05 238.11h2.0v2.0h-2.0zM369.05 242.33h2.0v2.0h-2.0zM369.05 246.55h2.0v2.0h-2.0zM369.05 250.77h2.0v2.0h-2.0zM369.05 254.99h2.0v2.0h-2.0zM369.05 259.21h2.0v2.0h-2.0zM369.05 263.43h2.0v2.0h-2.0zM369.05 267.65h2.0v2.0h-2.0zM373.27 52.43h2.0v2.0h-2.0zM373.27 56.65h2.0v2.0h-2.0zM373.27 60.87h2.0v2.0h-2.0zM373.27 65.09h2.0v2.0h-2.0zM373.27 69.31h2.0v2.0h-2.0zM373.27 73.53h2.0v2.0h-2.0zM373.27 77.75h2.0v2.0h-2.0zM373.27 81.97h2.0v2.0h-2.0zM373.27 86.19h2.0v2.0h-2.0zM373.27 90.41h2.0v2.0h-2.0zM373.27 94.63h2.0v2.0h-2.0zM373.27 98.85h2.0v2.0h-2.0zM373.27 103.07h2.0v2.0h-2.0zM373.27 107.29h2.0v2.0h-2.0zM373.27 111.51h2.0v2.0h-2.0zM373.27 115.73h2.0v2.0h-2.0zM373.27 119.95h2.0v2.0h-2.0zM373.27 124.17h2.0v2.0h-2.0zM373.27 128.39h2.0v2.0h-2.0zM373.27 132.61h2.0v2.0h-2.0zM373.27 136.83h2.0v2.0h-2.0zM373.27 141.05h2.0v2.0h-2.0zM373.27 145.27h2.0v2.0h-2.0zM373.27 149.49h2.0v2.0h-2.0zM373.27 153.71h2.0v2.0h-2.0zM373.27 157.93h2.0v2.0h-2.0zM373.27 162.15h2.0v2.0h-2.0zM373.27 166.37h2.0v2.0h-2.0zM373.27 170.59h2.0v2.0h-2.0zM373.27 174.81h2.0v2.0h-2.0zM373.27 179.03h2.0v2.0h-2.0zM373.27 183.25h2.0v2.0h-2.0zM373.27 187.47h2.0v2.0h-2.0zM373.27 191.69h2.0v2.0h-2.0zM373.27 195.91h2.0v2.0h-2.0zM373.27 200.13h2.0v2.0h-2.0zM373.27 204.35h2.0v2.0h-2.0zM373.27 208.57h2.0v2.0h-2.0zM373.27 212.79h2.0v2.0h-2.0zM373.27 217.01h2.0v2.0h-2.0zM373.27 221.23h2.0v2.0h-2.0zM373.27 225.45h2.0v2.0h-2.0zM373.27 229.67h2.0v2.0h-2.0zM373.27 233.89h2.0v2.0h-2.0zM373.27 238.11h2.0v2.0h-2.0zM373.27 242.33h2.0v2.0h-2.0zM373.27 246.55h2.0v2.0h-2.0zM373.27 250.77h2.0v2.0h-2.0zM373.27 254.99h2.0v2.0h-2.0zM373.27 259.21h2.0v2.0h-2.0zM373.27 263.43h2.0v2.0h-2.0zM373.27 267.65h2.0v2.0h-2.0zM377.49 52.43h2.0v2.0h-2.0zM377.49 56.65h2.0v2.0h-2.0zM377.49 60.87h2.0v2.0h-2.0zM377.49 65.09h2.0v2.0h-2.0zM377.49 69.31h2.0v2.0h-2.0zM377.49 73.53h2.0v2.0h-2.0zM377.49 77.75h2.0v2.0h-2.0zM377.49 81.97h2.0v2.0h-2.0zM377.49 86.19h2.0v2.0h-2.0zM377.49 90.41h2.0v2.0h-2.0zM377.49 94.63h2.0v2.0h-2.0zM377.49 98.85h2.0v2.0h-2.0zM377.49 103.07h2.0v2.0h-2.0zM377.49 107.29h2.0v2.0h-2.0zM377.49 111.51h2.0v2.0h-2.0zM377.49 115.73h2.0v2.0h-2.0zM377.49 119.95h2.0v2.0h-2.0zM377.49 124.17h2.0v2.0h-2.0zM377.49 128.39h2.0v2.0h-2.0zM377.49 132.61h2.0v2.0h-2.0zM377.49 136.83h2.0v2.0h-2.0zM377.49 141.05h2.0v2.0h-2.0zM377.49 145.27h2.0v2.0h-2.0zM377.49 149.49h2.0v2.0h-2.0zM377.49 153.71h2.0v2.0h-2.0zM377.49 157.93h2.0v2.0h-2.0zM377.49 162.15h2.0v2.0h-2.0zM377.49 166.37h2.0v2.0h-2.0zM377.49 170.59h2.0v2.0h-2.0zM377.49 174.81h2.0v2.0h-2.0zM377.49 179.03h2.0v2.0h-2.0zM377.49 183.25h2.0v2.0h-2.0zM377.49 187.47h2.0v2.0h-2.0zM377.49 191.69h2.0v2.0h-2.0zM377.49 195.91h2.0v2.0h-2.0zM377.49 200.13h2.0v2.0h-2.0zM377.49 204.35h2.0v2.0h-2.0zM377.49 208.57h2.0v2.0h-2.0zM377.49 212.79h2.0v2.0h-2.0zM377.49 217.01h2.0v2.0h-2.0zM377.49 221.23h2.0v2.0h-2.0zM377.49 225.45h2.0v2.0h-2.0zM377.49 229.67h2.0v2.0h-2.0zM377.49 233.89h2.0v2.0h-2.0zM377.49 238.11h2.0v2.0h-2.0zM377.49 242.33h2.0v2.0h-2.0zM377.49 246.55h2.0v2.0h-2.0zM377.49 250.77h2.0v2.0h-2.0zM377.49 254.99h2.0v2.0h-2.0zM377.49 259.21h2.0v2.0h-2.0zM377.49 263.43h2.0v2.0h-2.0zM377.49 267.65h2.0v2.0h-2.0zM381.71 52.43h2.0v2.0h-2.0zM381.71 56.65h2.0v2.0h-2.0zM381.71 60.87h2.0v2.0h-2.0zM381.71 65.09h2.0v2.0h-2.0zM381.71 69.31h2.0v2.0h-2.0zM381.71 73.53h2.0v2.0h-2.0zM381.71 77.75h2.0v2.0h-2.0zM381.71 81.97h2.0v2.0h-2.0zM381.71 86.19h2.0v2.0h-2.0zM381.71 90.41h2.0v2.0h-2.0zM381.71 94.63h2.0v2.0h-2.0zM381.71 98.85h2.0v2.0h-2.0zM381.71 103.07h2.0v2.0h-2.0zM381.71 107.29h2.0v2.0h-2.0zM381.71 111.51h2.0v2.0h-2.0zM381.71 115.73h2.0v2.0h-2.0zM381.71 119.95h2.0v2.0h-2.0zM381.71 124.17h2.0v2.0h-2.0zM381.71 128.39h2.0v2.0h-2.0zM381.71 132.61h2.0v2.0h-2.0zM381.71 136.83h2.0v2.0h-2.0zM381.71 141.05h2.0v2.0h-2.0zM381.71 145.27h2.0v2.0h-2.0zM381.71 149.49h2.0v2.0h-2.0zM381.71 153.71h2.0v2.0h-2.0zM381.71 157.93h2.0v2.0h-2.0zM381.71 162.15h2.0v2.0h-2.0zM381.71 166.37h2.0v2.0h-2.0zM381.71 170.59h2.0v2.0h-2.0zM381.71 174.81h2.0v2.0h-2.0zM381.71 179.03h2.0v2.0h-2.0zM381.71 183.25h2.0v2.0h-2.0zM381.71 187.47h2.0v2.0h-2.0zM381.71 191.69h2.0v2.0h-2.0zM381.71 195.91h2.0v2.0h-2.0zM381.71 200.13h2.0v2.0h-2.0zM381.71 204.35h2.0v2.0h-2.0zM381.71 208.57h2.0v2.0h-2.0zM381.71 212.79h2.0v2.0h-2.0zM381.71 217.01h2.0v2.0h-2.0zM381.71 221.23h2.0v2.0h-2.0zM381.71 225.45h2.0v2.0h-2.0zM381.71 229.67h2.0v2.0h-2.0zM381.71 233.89h2.0v2.0h-2.0zM381.71 238.11h2.0v2.0h-2.0zM381.71 242.33h2.0v2.0h-2.0zM381.71 246.55h2.0v2.0h-2.0zM381.71 250.77h2.0v2.0h-2.0zM381.71 254.99h2.0v2.0h-2.0zM381.71 259.21h2.0v2.0h-2.0zM381.71 263.43h2.0v2.0h-2.0zM381.71 267.65h2.0v2.0h-2.0zM385.93 52.43h2.0v2.0h-2.0zM385.93 56.65h2.0v2.0h-2.0zM385.93 60.87h2.0v2.0h-2.0zM385.93 65.09h2.0v2.0h-2.0zM385.93 69.31h2.0v2.0h-2.0zM385.93 73.53h2.0v2.0h-2.0zM385.93 77.75h2.0v2.0h-2.0zM385.93 81.97h2.0v2.0h-2.0zM385.93 86.19h2.0v2.0h-2.0zM385.93 90.41h2.0v2.0h-2.0zM385.93 94.63h2.0v2.0h-2.0zM385.93 98.85h2.0v2.0h-2.0zM385.93 103.07h2.0v2.0h-2.0zM385.93 107.29h2.0v2.0h-2.0zM385.93 111.51h2.0v2.0h-2.0zM385.93 115.73h2.0v2.0h-2.0zM385.93 119.95h2.0v2.0h-2.0zM385.93 124.17h2.0v2.0h-2.0zM385.93 128.39h2.0v2.0h-2.0zM385.93 132.61h2.0v2.0h-2.0zM385.93 136.83h2.0v2.0h-2.0zM385.93 141.05h2.0v2.0h-2.0zM385.93 145.27h2.0v2.0h-2.0zM385.93 149.49h2.0v2.0h-2.0zM385.93 153.71h2.0v2.0h-2.0zM385.93 157.93h2.0v2.0h-2.0zM385.93 162.15h2.0v2.0h-2.0zM385.93 166.37h2.0v2.0h-2.0zM385.93 170.59h2.0v2.0h-2.0zM385.93 174.81h2.0v2.0h-2.0zM385.93 179.03h2.0v2.0h-2.0zM385.93 183.25h2.0v2.0h-2.0zM385.93 187.47h2.0v2.0h-2.0zM385.93 191.69h2.0v2.0h-2.0zM385.93 195.91h2.0v2.0h-2.0zM385.93 200.13h2.0v2.0h-2.0zM385.93 204.35h2.0v2.0h-2.0zM385.93 208.57h2.0v2.0h-2.0zM385.93 212.79h2.0v2.0h-2.0zM385.93 217.01h2.0v2.0h-2.0zM385.93 221.23h2.0v2.0h-2.0zM385.93 225.45h2.0v2.0h-2.0zM385.93 229.67h2.0v2.0h-2.0zM385.93 233.89h2.0v2.0h-2.0zM385.93 238.11h2.0v2.0h-2.0zM385.93 242.33h2.0v2.0h-2.0zM385.93 246.55h2.0v2.0h-2.0zM385.93 250.77h2.0v2.0h-2.0zM385.93 254.99h2.0v2.0h-2.0zM385.93 259.21h2.0v2.0h-2.0zM385.93 263.43h2.0v2.0h-2.0zM385.93 267.65h2.0v2.0h-2.0zM390.15 52.43h2.0v2.0h-2.0zM390.15 56.65h2.0v2.0h-2.0zM390.15 60.87h2.0v2.0h-2.0zM390.15 65.09h2.0v2.0h-2.0zM390.15 69.31h2.0v2.0h-2.0zM390.15 73.53h2.0v2.0h-2.0zM390.15 77.75h2.0v2.0h-2.0zM390.15 81.97h2.0v2.0h-2.0zM390.15 86.19h2.0v2.0h-2.0zM390.15 90.41h2.0v2.0h-2.0zM390.15 94.63h2.0v2.0h-2.0zM390.15 98.85h2.0v2.0h-2.0zM390.15 103.07h2.0v2.0h-2.0zM390.15 107.29h2.0v2.0h-2.0zM390.15 111.51h2.0v2.0h-2.0zM390.15 115.73h2.0v2.0h-2.0zM390.15 119.95h2.0v2.0h-2.0zM390.15 124.17h2.0v2.0h-2.0zM390.15 128.39h2.0v2.0h-2.0zM390.15 132.61h2.0v2.0h-2.0zM390.15 136.83h2.0v2.0h-2.0zM390.15 141.05h2.0v2.0h-2.0zM390.15 145.27h2.0v2.0h-2.0zM390.15 149.49h2.0v2.0h-2.0zM390.15 153.71h2.0v2.0h-2.0zM390.15 157.93h2.0v2.0h-2.0zM390.15 162.15h2.0v2.0h-2.0zM390.15 166.37h2.0v2.0h-2.0zM390.15 170.59h2.0v2.0h-2.0zM390.15 174.81h2.0v2.0h-2.0zM390.15 179.03h2.0v2.0h-2.0zM390.15 183.25h2.0v2.0h-2.0zM390.15 187.47h2.0v2.0h-2.0zM390.15 191.69h2.0v2.0h-2.0zM390.15 195.91h2.0v2.0h-2.0zM390.15 200.13h2.0v2.0h-2.0zM390.15 204.35h2.0v2.0h-2.0zM390.15 208.57h2.0v2.0h-2.0zM390.15 212.79h2.0v2.0h-2.0zM390.15 217.01h2.0v2.0h-2.0zM390.15 221.23h2.0v2.0h-2.0zM390.15 225.45h2.0v2.0h-2.0zM390.15 229.67h2.0v2.0h-2.0zM390.15 233.89h2.0v2.0h-2.0zM390.15 238.11h2.0v2.0h-2.0zM390.15 242.33h2.0v2.0h-2.0zM390.15 246.55h2.0v2.0h-2.0zM390.15 250.77h2.0v2.0h-2.0zM390.15 254.99h2.0v2.0h-2.0zM390.15 259.21h2.0v2.0h-2.0zM390.15 263.43h2.0v2.0h-2.0zM390.15 267.65h2.0v2.0h-2.0zM394.37 52.43h2.0v2.0h-2.0zM394.37 56.65h2.0v2.0h-2.0zM394.37 60.87h2.0v2.0h-2.0zM394.37 65.09h2.0v2.0h-2.0zM394.37 69.31h2.0v2.0h-2.0zM394.37 73.53h2.0v2.0h-2.0zM394.37 77.75h2.0v2.0h-2.0zM394.37 81.97h2.0v2.0h-2.0zM394.37 86.19h2.0v2.0h-2.0zM394.37 90.41h2.0v2.0h-2.0zM394.37 94.63h2.0v2.0h-2.0zM394.37 98.85h2.0v2.0h-2.0zM394.37 103.07h2.0v2.0h-2.0zM394.37 107.29h2.0v2.0h-2.0zM394.37 111.51h2.0v2.0h-2.0zM394.37 115.73h2.0v2.0h-2.0zM394.37 119.95h2.0v2.0h-2.0zM394.37 124.17h2.0v2.0h-2.0zM394.37 128.39h2.0v2.0h-2.0zM394.37 132.61h2.0v2.0h-2.0zM394.37 136.83h2.0v2.0h-2.0zM394.37 141.05h2.0v2.0h-2.0zM394.37 145.27h2.0v2.0h-2.0zM394.37 149.49h2.0v2.0h-2.0zM394.37 153.71h2.0v2.0h-2.0zM394.37 157.93h2.0v2.0h-2.0zM394.37 162.15h2.0v2.0h-2.0zM394.37 166.37h2.0v2.0h-2.0zM394.37 170.59h2.0v2.0h-2.0zM394.37 174.81h2.0v2.0h-2.0zM394.37 179.03h2.0v2.0h-2.0zM394.37 183.25h2.0v2.0h-2.0zM394.37 187.47h2.0v2.0h-2.0zM394.37 191.69h2.0v2.0h-2.0zM394.37 195.91h2.0v2.0h-2.0zM394.37 200.13h2.0v2.0h-2.0zM394.37 204.35h2.0v2.0h-2.0zM394.37 208.57h2.0v2.0h-2.0zM394.37 212.79h2.0v2.0h-2.0zM394.37 217.01h2.0v2.0h-2.0zM394.37 221.23h2.0v2.0h-2.0zM394.37 225.45h2.0v2.0h-2.0zM394.37 229.67h2.0v2.0h-2.0zM394.37 233.89h2.0v2.0h-2.0zM394.37 238.11h2.0v2.0h-2.0zM394.37 242.33h2.0v2.0h-2.0zM394.37 246.55h2.0v2.0h-2.0zM394.37 250.77h2.0v2.0h-2.0zM394.37 254.99h2.0v2.0h-2.0zM394.37 259.21h2.0v2.0h-2.0zM394.37 263.43h2.0v2.0h-2.0zM394.37 267.65h2.0v2.0h-2.0zM398.59 52.43h2.0v2.0h-2.0zM398.59 56.65h2.0v2.0h-2.0zM398.59 60.87h2.0v2.0h-2.0zM398.59 65.09h2.0v2.0h-2.0zM398.59 69.31h2.0v2.0h-2.0zM398.59 73.53h2.0v2.0h-2.0zM398.59 77.75h2.0v2.0h-2.0zM398.59 81.97h2.0v2.0h-2.0zM398.59 86.19h2.0v2.0h-2.0zM398.59 90.41h2.0v2.0h-2.0zM398.59 94.63h2.0v2.0h-2.0zM398.59 98.85h2.0v2.0h-2.0zM398.59 103.07h2.0v2.0h-2.0zM398.59 107.29h2.0v2.0h-2.0zM398.59 111.51h2.0v2.0h-2.0zM398.59 115.73h2.0v2.0h-2.0zM398.59 119.95h2.0v2.0h-2.0zM398.59 124.17h2.0v2.0h-2.0zM398.59 128.39h2.0v2.0h-2.0zM398.59 132.61h2.0v2.0h-2.0zM398.59 136.83h2.0v2.0h-2.0zM398.59 141.05h2.0v2.0h-2.0zM398.59 145.27h2.0v2.0h-2.0zM398.59 149.49h2.0v2.0h-2.0zM398.59 153.71h2.0v2.0h-2.0zM398.59 157.93h2.0v2.0h-2.0zM398.59 162.15h2.0v2.0h-2.0zM398.59 166.37h2.0v2.0h-2.0zM398.59 170.59h2.0v2.0h-2.0zM398.59 174.81h2.0v2.0h-2.0zM398.59 179.03h2.0v2.0h-2.0zM398.59 183.25h2.0v2.0h-2.0zM398.59 187.47h2.0v2.0h-2.0zM398.59 191.69h2.0v2.0h-2.0zM398.59 195.91h2.0v2.0h-2.0zM398.59 200.13h2.0v2.0h-2.0zM398.59 204.35h2.0v2.0h-2.0zM398.59 208.57h2.0v2.0h-2.0zM398.59 212.79h2.0v2.0h-2.0zM398.59 217.01h2.0v2.0h-2.0zM398.59 221.23h2.0v2.0h-2.0zM398.59 225.45h2.0v2.0h-2.0zM398.59 229.67h2.0v2.0h-2.0zM398.59 233.89h2.0v2.0h-2.0zM398.59 238.11h2.0v2.0h-2.0zM398.59 242.33h2.0v2.0h-2.0zM398.59 246.55h2.0v2.0h-2.0zM398.59 250.77h2.0v2.0h-2.0zM398.59 254.99h2.0v2.0h-2.0zM398.59 259.21h2.0v2.0h-2.0zM398.59 263.43h2.0v2.0h-2.0zM398.59 267.65h2.0v2.0h-2.0zM402.81 52.43h2.0v2.0h-2.0zM402.81 56.65h2.0v2.0h-2.0zM402.81 60.87h2.0v2.0h-2.0zM402.81 65.09h2.0v2.0h-2.0zM402.81 69.31h2.0v2.0h-2.0zM402.81 73.53h2.0v2.0h-2.0zM402.81 77.75h2.0v2.0h-2.0zM402.81 81.97h2.0v2.0h-2.0zM402.81 86.19h2.0v2.0h-2.0zM402.81 90.41h2.0v2.0h-2.0zM402.81 94.63h2.0v2.0h-2.0zM402.81 98.85h2.0v2.0h-2.0zM402.81 103.07h2.0v2.0h-2.0zM402.81 107.29h2.0v2.0h-2.0zM402.81 111.51h2.0v2.0h-2.0zM402.81 115.73h2.0v2.0h-2.0zM402.81 119.95h2.0v2.0h-2.0zM402.81 124.17h2.0v2.0h-2.0zM402.81 128.39h2.0v2.0h-2.0zM402.81 132.61h2.0v2.0h-2.0zM402.81 136.83h2.0v2.0h-2.0zM402.81 141.05h2.0v2.0h-2.0zM402.81 145.27h2.0v2.0h-2.0zM402.81 149.49h2.0v2.0h-2.0zM402.81 153.71h2.0v2.0h-2.0zM402.81 157.93h2.0v2.0h-2.0zM402.81 162.15h2.0v2.0h-2.0zM402.81 166.37h2.0v2.0h-2.0zM402.81 170.59h2.0v2.0h-2.0zM402.81 174.81h2.0v2.0h-2.0zM402.81 179.03h2.0v2.0h-2.0zM402.81 183.25h2.0v2.0h-2.0zM402.81 187.47h2.0v2.0h-2.0zM402.81 191.69h2.0v2.0h-2.0zM402.81 195.91h2.0v2.0h-2.0zM402.81 200.13h2.0v2.0h-2.0zM402.81 204.35h2.0v2.0h-2.0zM402.81 208.57h2.0v2.0h-2.0zM402.81 212.79h2.0v2.0h-2.0zM402.81 217.01h2.0v2.0h-2.0zM402.81 221.23h2.0v2.0h-2.0zM402.81 225.45h2.0v2.0h-2.0zM402.81 229.67h2.0v2.0h-2.0zM402.81 233.89h2.0v2.0h-2.0zM402.81 238.11h2.0v2.0h-2.0zM402.81 242.33h2.0v2.0h-2.0zM402.81 246.55h2.0v2.0h-2.0zM402.81 250.77h2.0v2.0h-2.0zM402.81 254.99h2.0v2.0h-2.0zM402.81 259.21h2.0v2.0h-2.0zM402.81 263.43h2.0v2.0h-2.0zM402.81 267.65h2.0v2.0h-2.0zM407.03 52.43h2.0v2.0h-2.0zM407.03 56.65h2.0v2.0h-2.0zM407.03 60.87h2.0v2.0h-2.0zM407.03 65.09h2.0v2.0h-2.0zM407.03 69.31h2.0v2.0h-2.0zM407.03 73.53h2.0v2.0h-2.0zM407.03 77.75h2.0v2.0h-2.0zM407.03 81.97h2.0v2.0h-2.0zM407.03 86.19h2.0v2.0h-2.0zM407.03 90.41h2.0v2.0h-2.0zM407.03 94.63h2.0v2.0h-2.0zM407.03 98.85h2.0v2.0h-2.0zM407.03 103.07h2.0v2.0h-2.0zM407.03 107.29h2.0v2.0h-2.0zM407.03 111.51h2.0v2.0h-2.0zM407.03 115.73h2.0v2.0h-2.0zM407.03 119.95h2.0v2.0h-2.0zM407.03 124.17h2.0v2.0h-2.0zM407.03 128.39h2.0v2.0h-2.0zM407.03 132.61h2.0v2.0h-2.0zM407.03 136.83h2.0v2.0h-2.0zM407.03 141.05h2.0v2.0h-2.0zM407.03 145.27h2.0v2.0h-2.0zM407.03 149.49h2.0v2.0h-2.0zM407.03 153.71h2.0v2.0h-2.0zM407.03 157.93h2.0v2.0h-2.0zM407.03 162.15h2.0v2.0h-2.0zM407.03 166.37h2.0v2.0h-2.0zM407.03 170.59h2.0v2.0h-2.0zM407.03 174.81h2.0v2.0h-2.0zM407.03 179.03h2.0v2.0h-2.0zM407.03 183.25h2.0v2.0h-2.0zM407.03 187.47h2.0v2.0h-2.0zM407.03 191.69h2.0v2.0h-2.0zM407.03 195.91h2.0v2.0h-2.0zM407.03 200.13h2.0v2.0h-2.0zM407.03 204.35h2.0v2.0h-2.0zM407.03 208.57h2.0v2.0h-2.0zM407.03 212.79h2.0v2.0h-2.0zM407.03 217.01h2.0v2.0h-2.0zM407.03 221.23h2.0v2.0h-2.0zM407.03 225.45h2.0v2.0h-2.0zM407.03 229.67h2.0v2.0h-2.0zM407.03 233.89h2.0v2.0h-2.0zM407.03 238.11h2.0v2.0h-2.0zM407.03 242.33h2.0v2.0h-2.0zM407.03 246.55h2.0v2.0h-2.0zM407.03 250.77h2.0v2.0h-2.0zM407.03 254.99h2.0v2.0h-2.0zM407.03 259.21h2.0v2.0h-2.0zM407.03 263.43h2.0v2.0h-2.0zM407.03 267.65h2.0v2.0h-2.0z" fill="none" stroke="#707070" stroke-width="0.92"/>
<path d="M252.28,133.03L252.55,132.30L253.01,131.60L253.66,130.95L254.45,130.33L255.24,129.71L256.02,129.09L256.81,128.48L257.60,127.86L258.39,127.24L259.17,126.62L259.96,126.01L260.75,125.39L261.54,124.78L262.33,124.16L263.12,123.55L263.91,122.94L264.71,122.33L265.50,121.72L266.30,121.12L267.10,120.52L267.90,119.91L268.70,119.32L269.51,118.73L270.32,118.14L271.14,117.56L271.95,116.98L272.77,116.41L273.60,115.84L274.43,115.28L275.26,114.72L276.09,114.17L276.93,113.62L277.77,113.08L278.61,112.53L279.45,111.99L280.29,111.45L281.13,110.91L281.97,110.36L282.81,109.82L283.65,109.27L284.49,108.72L285.32,108.17L286.15,107.62L286.98,107.06L287.81,106.49L288.64,105.93L289.46,105.36L290.29,104.79L291.11,104.23L291.94,103.67L292.77,103.11L293.60,102.55L294.43,102.00L295.27,101.45L296.12,100.91L296.96,100.38L297.81,99.85L298.66,99.33L299.52,98.81L300.38,98.30L301.24,97.79L302.11,97.29L302.97,96.79L303.84,96.29L304.72,95.80L305.59,95.31L306.46,94.82L307.34,94.34L308.21,93.85L309.09,93.37L309.97,92.89L310.84,92.41L311.72,91.93L312.60,91.45L313.48,90.97L314.36,90.49L315.24,90.01L316.11,89.53L316.99,89.05L317.87,88.57L318.75,88.09L319.62,87.60L320.50,87.12L321.37,86.63L322.25,86.14L323.12,85.65L323.99,85.16L324.86,84.67L325.73,84.17L326.60,83.67L327.46,83.17L328.33,82.67L329.19,82.16L330.06,81.66L330.92,81.15L331.78,80.64L332.64,80.13L333.50,79.62L334.36,79.11L335.22,78.60L336.08,78.09L336.94,77.58L337.80,77.07L338.66,76.56L339.53,76.05L340.39,75.54L341.25,75.03L342.11,74.52L342.97,74.01L343.84,73.51L344.70,73.01L345.57,72.51L346.44,72.01L347.31,71.51L348.18,71.02L349.06,70.54L349.93,70.06L350.81,69.58L351.70,69.11L352.58,68.65L353.47,68.19L354.37,67.74L355.26,67.30L356.16,66.86L357.07,66.43L357.97,66.00L358.88,65.58L359.79,65.16L360.70,64.74L361.61,64.32L362.52,63.91L363.43,63.49L364.33,63.07L365.24,62.65L366.15,62.22L367.05,61.79L367.95,61.36L368.86,60.93L369.76,60.50L370.66,60.07L371.56,59.64L372.47,59.20L373.37,58.77L374.27,58.34L375.18,57.93L376.10,57.56L377.02,57.23L377.96,56.93L378.91,56.68L379.88,56.52L380.85,56.47L381.82,56.52L382.74,56.70L383.60,57.04L384.37,57.55L385.06,58.19L385.65,58.95L386.14,59.79L386.53,60.69L386.85,61.63L387.12,62.59L387.36,63.56L387.56,64.53L387.74,65.52L387.92,66.50L388.11,67.48L388.29,68.47L388.47,69.45L388.65,70.44L388.84,71.42L389.02,72.40L389.21,73.39L389.40,74.37L389.59,75.35L389.78,76.33L389.97,77.32L390.17,78.30L390.37,79.28L390.59,80.25L390.82,81.23L391.07,82.19L391.34,83.16L391.61,84.12L391.89,85.08L392.17,86.04L392.43,87.01L392.68,87.97L392.91,88.95L393.12,89.93L393.32,90.90L393.51,91.89L393.69,92.87L393.86,93.86L394.03,94.84L394.19,95.83L394.35,96.82L394.50,97.81L394.65,98.80L394.80,99.79L394.95,100.78L395.09,101.77L395.23,102.76L395.37,103.75L395.51,104.74L395.64,105.73L395.78,106.72L395.92,107.71L396.05,108.71L396.19,109.70L396.32,110.69L396.46,111.68L396.59,112.67L396.72,113.67L396.85,114.66L396.98,115.65L397.11,116.64L397.24,117.63L397.37,118.63L397.50,119.62L397.63,120.61L397.76,121.60L397.89,122.60L398.02,123.59L398.14,124.58L398.27,125.57L398.40,126.57L398.53,127.56L398.65,128.55L398.78,129.54L398.91,130.54L399.03,131.53L399.16,132.52L399.29,133.51L399.41,134.51L399.54,135.50L399.66,136.49L399.79,137.48L399.92,138.48L400.04,139.47L400.17,140.46L400.29,141.46L400.42,142.45L400.55,143.44L400.67,144.43L400.80,145.43L400.92,146.42L401.05,147.41L401.17,148.41L401.30,149.40L401.42,150.39L401.55,151.38L401.67,152.38L401.80,153.37L401.92,154.36L402.04,155.36L402.17,156.35L402.29,157.34L402.42,158.33L402.54,159.33L402.67,160.32L402.79,161.31L402.92,162.31L403.04,163.30L403.17,164.29L403.29,165.29L403.42,166.28L403.54,167.27L403.67,168.26L403.79,169.26L403.92,170.25L404.04,171.24L404.17,172.24L404.29,173.23L404.42,174.22L404.54,175.21L404.67,176.21L404.80,177.20L404.92,178.19L405.05,179.18L405.17,180.18L405.30,181.17L405.43,182.16L405.56,183.16L405.68,184.15L405.81,185.14L405.94,186.13L406.07,187.13L406.19,188.12L406.32,189.11L406.45,190.10L406.57,191.10L406.70,192.09L406.82,193.08L406.82,194.00L406.65,194.82L406.33,195.55L405.84,196.19L405.19,196.74L404.38,197.19L403.46,197.57L402.53,197.96L401.61,198.34L400.68,198.73L399.76,199.11L398.84,199.50L397.91,199.89L396.99,200.28L396.07,200.67L395.15,201.06L394.23,201.46L393.32,201.86L392.40,202.26L391.48,202.66L390.57,203.07L389.66,203.48L388.74,203.89L387.83,204.31L386.92,204.72L386.02,205.15L385.11,205.57L384.20,206.00L383.30,206.42L382.40,206.86L381.50,207.29L380.59,207.72L379.69,208.16L378.79,208.60L377.90,209.04L377.00,209.48L376.10,209.93L375.20,210.37L374.31,210.82L373.41,211.26L372.52,211.71L371.62,212.15L370.73,212.60L369.83,213.05L368.94,213.50L368.04,213.94L367.15,214.39L366.25,214.84L365.36,215.29L364.46,215.74L363.57,216.19L362.68,216.64L361.79,217.10L360.89,217.55L360.00,218.00L359.11,218.46L358.22,218.91L357.33,219.37L356.43,219.82L355.54,220.28L354.65,220.73L353.76,221.19L352.88,221.65L351.99,222.11L351.10,222.57L350.21,223.03L349.32,223.49L348.43,223.95L347.55,224.42L346.66,224.88L345.77,225.35L344.89,225.81L344.00,226.28L343.12,226.75L342.24,227.22L341.35,227.69L340.47,228.16L339.59,228.63L338.70,229.10L337.82,229.58L336.94,230.06L336.07,230.54L335.19,231.02L334.32,231.51L333.44,231.99L332.57,232.48L331.69,232.97L330.82,233.46L329.95,233.95L329.09,234.46L328.22,234.96L327.36,235.47L326.50,235.98L325.64,236.49L324.78,237.01L323.93,237.53L323.08,238.06L322.23,238.59L321.38,239.12L320.54,239.66L319.70,240.20L318.86,240.74L318.02,241.29L317.18,241.84L316.35,242.39L315.52,242.95L314.69,243.51L313.86,244.07L313.04,244.64L312.21,245.21L311.39,245.78L310.57,246.35L309.75,246.92L308.93,247.50L308.11,248.07L307.29,248.65L306.48,249.23L305.66,249.80L304.84,250.38L304.02,250.95L303.20,251.53L302.38,252.10L301.56,252.67L300.73,253.24L299.91,253.81L299.09,254.38L298.26,254.94L297.44,255.51L296.61,256.08L295.79,256.65L294.97,257.22L294.15,257.79L293.33,258.37L292.51,258.94L291.69,259.52L290.87,260.09L290.06,260.67L289.24,261.25L288.43,261.83L287.61,262.41L286.80,262.99L285.98,263.58L285.17,264.16L284.36,264.74L283.54,265.33L282.74,265.88L282.04,266.21L281.43,266.31L280.94,266.16L280.55,265.77L280.26,265.14L280.09,264.26L279.96,263.27L279.84,262.28L279.71,261.28L279.59,260.29L279.46,259.30L279.33,258.31L279.20,257.31L279.07,256.32L278.94,255.33L278.80,254.34L278.66,253.35L278.52,252.36L278.38,251.37L278.23,250.38L278.08,249.39L277.93,248.40L277.78,247.41L277.63,246.42L277.47,245.43L277.32,244.44L277.16,243.45L277.00,242.47L276.84,241.48L276.67,240.49L276.51,239.50L276.35,238.52L276.18,237.53L276.01,236.54L275.85,235.56L275.68,234.57L275.51,233.58L275.34,232.60L275.18,231.61L275.01,230.62L274.84,229.64L274.67,228.65L274.50,227.66L274.33,226.68L274.16,225.69L273.99,224.71L273.82,223.72L273.65,222.73L273.48,221.75L273.31,220.76L273.14,219.78L272.97,218.79L272.80,217.80L272.62,216.82L272.45,215.83L272.28,214.85L272.11,213.86L271.93,212.87L271.76,211.89L271.59,210.90L271.42,209.92L271.24,208.93L271.07,207.95L270.90,206.96L270.72,205.98L270.55,204.99L270.37,204.00L270.20,203.02L270.02,202.03L269.84,201.05L269.67,200.06L269.49,199.08L269.32,198.09L269.14,197.11L268.96,196.12L268.79,195.14L268.61,194.15L268.43,193.17L268.25,192.19L268.07,191.20L267.89,190.22L267.71,189.23L267.53,188.25L267.34,187.26L267.16,186.28L266.98,185.30L266.80,184.31L266.61,183.33L266.43,182.35L266.24,181.36L266.05,180.38L265.86,179.40L265.66,178.42L265.47,177.43L265.28,176.45L265.08,175.47L264.87,174.49L264.66,173.51L264.45,172.54L264.22,171.56L263.99,170.59L263.75,169.62L263.49,168.65L263.22,167.69L262.91,166.74L262.57,165.80L262.21,164.87L261.83,163.95L261.44,163.03L261.06,162.11L260.69,161.18L260.36,160.24L260.06,159.29L259.80,158.33L259.55,157.36L259.32,156.38L259.10,155.41L258.88,154.43L258.67,153.45L258.46,152.47L258.24,151.50L258.03,150.52L257.80,149.55L257.56,148.57L257.31,147.61L257.05,146.64L256.76,145.68L256.45,144.73L256.13,143.79L255.78,142.85L255.42,141.92L255.04,140.99L254.65,140.07L254.25,139.16L253.84,138.24L253.42,137.33L253.00,136.43L252.57,135.52L252.29,134.65L252.19,133.82Z" stroke="#6a6a6a" stroke-width="3.3" fill="none" stroke-linejoin="round" stroke-linecap="round"/>
<path d="M252.28,133.03L252.55,132.30L253.01,131.60L253.66,130.95L254.45,130.33L255.24,129.71L256.02,129.09L256.81,128.48L257.60,127.86L258.39,127.24L259.17,126.62L259.96,126.01L260.75,125.39L261.54,124.78L262.33,124.16L263.12,123.55L263.91,122.94L264.71,122.33L265.50,121.72L266.30,121.12L267.10,120.52L267.90,119.91L268.70,119.32L269.51,118.73L270.32,118.14L271.14,117.56L271.95,116.98L272.77,116.41L273.60,115.84L274.43,115.28L275.26,114.72L276.09,114.17L276.93,113.62L277.77,113.08L278.61,112.53L279.45,111.99L280.29,111.45L281.13,110.91L281.97,110.36L282.81,109.82L283.65,109.27L284.49,108.72L285.32,108.17L286.15,107.62L286.98,107.06L287.81,106.49L288.64,105.93L289.46,105.36L290.29,104.79L291.11,104.23L291.94,103.67L292.77,103.11L293.60,102.55L294.43,102.00L295.27,101.45L296.12,100.91L296.96,100.38L297.81,99.85L298.66,99.33L299.52,98.81L300.38,98.30L301.24,97.79L302.11,97.29L302.97,96.79L303.84,96.29L304.72,95.80L305.59,95.31L306.46,94.82L307.34,94.34L308.21,93.85L309.09,93.37L309.97,92.89L310.84,92.41L311.72,91.93L312.60,91.45L313.48,90.97L314.36,90.49L315.24,90.01L316.11,89.53L316.99,89.05L317.87,88.57L318.75,88.09L319.62,87.60L320.50,87.12L321.37,86.63L322.25,86.14L323.12,85.65L323.99,85.16L324.86,84.67L325.73,84.17L326.60,83.67L327.46,83.17L328.33,82.67L329.19,82.16L330.06,81.66L330.92,81.15L331.78,80.64L332.64,80.13L333.50,79.62L334.36,79.11L335.22,78.60L336.08,78.09L336.94,77.58L337.80,77.07L338.66,76.56L339.53,76.05L340.39,75.54L341.25,75.03L342.11,74.52L342.97,74.01L343.84,73.51L344.70,73.01L345.57,72.51L346.44,72.01L347.31,71.51L348.18,71.02L349.06,70.54L349.93,70.06L350.81,69.58L351.70,69.11L352.58,68.65L353.47,68.19L354.37,67.74L355.26,67.30L356.16,66.86L357.07,66.43L357.97,66.00L358.88,65.58L359.79,65.16L360.70,64.74L361.61,64.32L362.52,63.91L363.43,63.49L364.33,63.07L365.24,62.65L366.15,62.22L367.05,61.79L367.95,61.36L368.86,60.93L369.76,60.50L370.66,60.07L371.56,59.64L372.47,59.20L373.37,58.77L374.27,58.34L375.18,57.93L376.10,57.56L377.02,57.23L377.96,56.93L378.91,56.68L379.88,56.52L380.85,56.47L381.82,56.52L382.74,56.70L383.60,57.04L384.37,57.55L385.06,58.19L385.65,58.95L386.14,59.79L386.53,60.69L386.85,61.63L387.12,62.59L387.36,63.56L387.56,64.53L387.74,65.52L387.92,66.50L388.11,67.48L388.29,68.47L388.47,69.45L388.65,70.44L388.84,71.42L389.02,72.40L389.21,73.39L389.40,74.37L389.59,75.35L389.78,76.33L389.97,77.32L390.17,78.30L390.37,79.28L390.59,80.25L390.82,81.23L391.07,82.19L391.34,83.16L391.61,84.12L391.89,85.08L392.17,86.04L392.43,87.01L392.68,87.97L392.91,88.95L393.12,89.93L393.32,90.90L393.51,91.89L393.69,92.87L393.86,93.86L394.03,94.84L394.19,95.83L394.35,96.82L394.50,97.81L394.65,98.80L394.80,99.79L394.95,100.78L395.09,101.77L395.23,102.76L395.37,103.75L395.51,104.74L395.64,105.73L395.78,106.72L395.92,107.71L396.05,108.71L396.19,109.70L396.32,110.69L396.46,111.68L396.59,112.67L396.72,113.67L396.85,114.66L396.98,115.65L397.11,116.64L397.24,117.63L397.37,118.63L397.50,119.62L397.63,120.61L397.76,121.60L397.89,122.60L398.02,123.59L398.14,124.58L398.27,125.57L398.40,126.57L398.53,127.56L398.65,128.55L398.78,129.54L398.91,130.54L399.03,131.53L399.16,132.52L399.29,133.51L399.41,134.51L399.54,135.50L399.66,136.49L399.79,137.48L399.92,138.48L400.04,139.47L400.17,140.46L400.29,141.46L400.42,142.45L400.55,143.44L400.67,144.43L400.80,145.43L400.92,146.42L401.05,147.41L401.17,148.41L401.30,149.40L401.42,150.39L401.55,151.38L401.67,152.38L401.80,153.37L401.92,154.36L402.04,155.36L402.17,156.35L402.29,157.34L402.42,158.33L402.54,159.33L402.67,160.32L402.79,161.31L402.92,162.31L403.04,163.30L403.17,164.29L403.29,165.29L403.42,166.28L403.54,167.27L403.67,168.26L403.79,169.26L403.92,170.25L404.04,171.24L404.17,172.24L404.29,173.23L404.42,174.22L404.54,175.21L404.67,176.21L404.80,177.20L404.92,178.19L405.05,179.18L405.17,180.18L405.30,181.17L405.43,182.16L405.56,183.16L405.68,184.15L405.81,185.14L405.94,186.13L406.07,187.13L406.19,188.12L406.32,189.11L406.45,190.10L406.57,191.10L406.70,192.09L406.82,193.08L406.82,194.00L406.65,194.82L406.33,195.55L405.84,196.19L405.19,196.74L404.38,197.19L403.46,197.57L402.53,197.96L401.61,198.34L400.68,198.73L399.76,199.11L398.84,199.50L397.91,199.89L396.99,200.28L396.07,200.67L395.15,201.06L394.23,201.46L393.32,201.86L392.40,202.26L391.48,202.66L390.57,203.07L389.66,203.48L388.74,203.89L387.83,204.31L386.92,204.72L386.02,205.15L385.11,205.57L384.20,206.00L383.30,206.42L382.40,206.86L381.50,207.29L380.59,207.72L379.69,208.16L378.79,208.60L377.90,209.04L377.00,209.48L376.10,209.93L375.20,210.37L374.31,210.82L373.41,211.26L372.52,211.71L371.62,212.15L370.73,212.60L369.83,213.05L368.94,213.50L368.04,213.94L367.15,214.39L366.25,214.84L365.36,215.29L364.46,215.74L363.57,216.19L362.68,216.64L361.79,217.10L360.89,217.55L360.00,218.00L359.11,218.46L358.22,218.91L357.33,219.37L356.43,219.82L355.54,220.28L354.65,220.73L353.76,221.19L352.88,221.65L351.99,222.11L351.10,222.57L350.21,223.03L349.32,223.49L348.43,223.95L347.55,224.42L346.66,224.88L345.77,225.35L344.89,225.81L344.00,226.28L343.12,226.75L342.24,227.22L341.35,227.69L340.47,228.16L339.59,228.63L338.70,229.10L337.82,229.58L336.94,230.06L336.07,230.54L335.19,231.02L334.32,231.51L333.44,231.99L332.57,232.48L331.69,232.97L330.82,233.46L329.95,233.95L329.09,234.46L328.22,234.96L327.36,235.47L326.50,235.98L325.64,236.49L324.78,237.01L323.93,237.53L323.08,238.06L322.23,238.59L321.38,239.12L320.54,239.66L319.70,240.20L318.86,240.74L318.02,241.29L317.18,241.84L316.35,242.39L315.52,242.95L314.69,243.51L313.86,244.07L313.04,244.64L312.21,245.21L311.39,245.78L310.57,246.35L309.75,246.92L308.93,247.50L308.11,248.07L307.29,248.65L306.48,249.23L305.66,249.80L304.84,250.38L304.02,250.95L303.20,251.53L302.38,252.10L301.56,252.67L300.73,253.24L299.91,253.81L299.09,254.38L298.26,254.94L297.44,255.51L296.61,256.08L295.79,256.65L294.97,257.22L294.15,257.79L293.33,258.37L292.51,258.94L291.69,259.52L290.87,260.09L290.06,260.67L289.24,261.25L288.43,261.83L287.61,262.41L286.80,262.99L285.98,263.58L285.17,264.16L284.36,264.74L283.54,265.33L282.74,265.88L282.04,266.21L281.43,266.31L280.94,266.16L280.55,265.77L280.26,265.14L280.09,264.26L279.96,263.27L279.84,262.28L279.71,261.28L279.59,260.29L279.46,259.30L279.33,258.31L279.20,257.31L279.07,256.32L278.94,255.33L278.80,254.34L278.66,253.35L278.52,252.36L278.38,251.37L278.23,250.38L278.08,249.39L277.93,248.40L277.78,247.41L277.63,246.42L277.47,245.43L277.32,244.44L277.16,243.45L277.00,242.47L276.84,241.48L276.67,240.49L276.51,239.50L276.35,238.52L276.18,237.53L276.01,236.54L275.85,235.56L275.68,234.57L275.51,233.58L275.34,232.60L275.18,231.61L275.01,230.62L274.84,229.64L274.67,228.65L274.50,227.66L274.33,226.68L274.16,225.69L273.99,224.71L273.82,223.72L273.65,222.73L273.48,221.75L273.31,220.76L273.14,219.78L272.97,218.79L272.80,217.80L272.62,216.82L272.45,215.83L272.28,214.85L272.11,213.86L271.93,212.87L271.76,211.89L271.59,210.90L271.42,209.92L271.24,208.93L271.07,207.95L270.90,206.96L270.72,205.98L270.55,204.99L270.37,204.00L270.20,203.02L270.02,202.03L269.84,201.05L269.67,200.06L269.49,199.08L269.32,198.09L269.14,197.11L268.96,196.12L268.79,195.14L268.61,194.15L268.43,193.17L268.25,192.19L268.07,191.20L267.89,190.22L267.71,189.23L267.53,188.25L267.34,187.26L267.16,186.28L266.98,185.30L266.80,184.31L266.61,183.33L266.43,182.35L266.24,181.36L266.05,180.38L265.86,179.40L265.66,178.42L265.47,177.43L265.28,176.45L265.08,175.47L264.87,174.49L264.66,173.51L264.45,172.54L264.22,171.56L263.99,170.59L263.75,169.62L263.49,168.65L263.22,167.69L262.91,166.74L262.57,165.80L262.21,164.87L261.83,163.95L261.44,163.03L261.06,162.11L260.69,161.18L260.36,160.24L260.06,159.29L259.80,158.33L259.55,157.36L259.32,156.38L259.10,155.41L258.88,154.43L258.67,153.45L258.46,152.47L258.24,151.50L258.03,150.52L257.80,149.55L257.56,148.57L257.31,147.61L257.05,146.64L256.76,145.68L256.45,144.73L256.13,143.79L255.78,142.85L255.42,141.92L255.04,140.99L254.65,140.07L254.25,139.16L253.84,138.24L253.42,137.33L253.00,136.43L252.57,135.52L252.29,134.65L252.19,133.82Z" stroke="#fff" stroke-width="1.4" fill="none" stroke-linejoin="round" stroke-linecap="round"/>
<path d="M368.60,43.20 C365.50,44.67 357.27,48.40 350.00,52.00 C342.73,55.60 333.67,60.22 325.00,64.80 C316.33,69.38 307.50,73.84 298.00,79.50 C288.50,85.16 277.82,92.45 268.00,98.75 C258.18,105.05 243.92,114.21 239.10,117.30" stroke="#707070" stroke-width="1.1" fill="none" stroke-linejoin="round" stroke-linecap="round"/>
<path d="M239.10,117.30 C238.43,117.73 236.23,118.80 235.10,119.90 C233.97,121.00 233.05,122.28 232.30,123.90 C231.55,125.52 230.88,127.70 230.60,129.60 C230.32,131.50 230.27,132.73 230.60,135.30 C230.93,137.87 231.68,140.88 232.60,145.00 C233.52,149.12 234.88,155.00 236.10,160.00 C237.32,165.00 237.23,161.67 239.90,175.00 C242.57,188.33 248.98,219.17 252.10,240.00 C255.22,260.83 257.20,283.33 258.60,300.00 C260.00,316.67 260.42,326.67 260.50,340.00 C260.58,353.33 260.35,365.00 259.10,380.00 C257.85,395.00 256.05,412.53 253.00,430.00 C249.95,447.47 242.83,475.67 240.80,484.80" stroke="#707070" stroke-width="1.1" fill="none" stroke-linejoin="round" stroke-linecap="round"/>
<path d="M239.10,117.30 L251.10,118.40 L254.60,127.30" stroke="#707070" stroke-width="1.1" fill="none" stroke-linejoin="round" stroke-linecap="round"/>
<path d="M251.10,118.40 C250.35,118.83 247.83,119.72 246.60,121.00 C245.37,122.28 244.37,124.28 243.70,126.10 C243.03,127.92 242.70,129.90 242.60,131.90 C242.50,133.90 242.72,135.92 243.10,138.10 C243.48,140.28 243.87,141.35 244.90,145.00 C245.93,148.65 247.95,155.00 249.30,160.00 C250.65,165.00 250.05,161.67 253.00,175.00 C255.95,188.33 263.22,218.52 267.00,240.00 C270.78,261.48 274.03,289.73 275.70,303.90 C277.37,318.07 276.78,321.48 277.00,325.00" stroke="#707070" stroke-width="1.1" fill="none" stroke-linejoin="round" stroke-linecap="round"/>
<path d="M251.10,118.40 C254.92,115.88 266.18,108.45 274.00,103.30 C281.82,98.15 289.50,92.52 298.00,87.50 C306.50,82.48 316.33,77.88 325.00,73.20 C333.67,68.52 341.32,63.92 350.00,59.40 C358.68,54.88 372.58,48.32 377.10,46.10" stroke="#707070" stroke-width="1.1" fill="none" stroke-linejoin="round" stroke-linecap="round"/>
<path d="M368.60,43.20 L377.10,46.10 L379.30,55.40" stroke="#707070" stroke-width="1.1" fill="none" stroke-linejoin="round" stroke-linecap="round"/>
<path d="M377.10,46.10 L383.60,42.50" stroke="#999" stroke-width="1.1" fill="none" stroke-linejoin="round" stroke-linecap="round"/>
<path d="M368.60,43.20 C369.07,42.90 370.22,41.93 371.40,41.40 C372.58,40.87 374.03,40.12 375.70,40.00 C377.37,39.88 379.50,40.28 381.40,40.70 C383.30,41.12 385.40,41.78 387.10,42.50 C388.80,43.22 390.28,43.92 391.60,45.00 C392.92,46.08 394.10,47.33 395.00,49.00 C395.90,50.67 396.25,51.00 397.00,55.00 C397.75,59.00 398.28,65.50 399.50,73.00 C400.72,80.50 403.17,93.83 404.30,100.00 C405.43,106.17 405.25,103.33 406.30,110.00 C407.35,116.67 408.93,128.33 410.60,140.00 C412.27,151.67 414.68,164.05 416.30,180.00 C417.92,195.95 419.63,226.42 420.30,235.70" stroke="#707070" stroke-width="1.1" fill="none" stroke-linejoin="round" stroke-linecap="round"/>
<path d="M285.70,275.30 C289.75,272.34 301.78,263.20 310.00,257.55 C318.22,251.90 325.83,246.85 335.00,241.40 C344.17,235.95 353.78,230.33 365.00,224.86 C376.22,219.39 396.08,211.31 402.30,208.60" stroke="#707070" stroke-width="1.1" fill="none" stroke-linejoin="round" stroke-linecap="round"/>
<path d="M283.40,266.90 L287.80,303.00" stroke="#707070" stroke-width="1.1" fill="none" stroke-linejoin="round" stroke-linecap="round"/>
<path d="M401.40,199.70 L404.90,236.30" stroke="#707070" stroke-width="1.1" fill="none" stroke-linejoin="round" stroke-linecap="round"/>
<path d="M391.10,214.30 L392.40,243.20" stroke="#707070" stroke-width="1.1" fill="none" stroke-linejoin="round" stroke-linecap="round"/>
<path d="M287.80,303.00 C294.78,299.17 314.33,288.88 329.70,280.00 C345.07,271.12 367.47,256.98 380.00,249.70 C392.53,242.42 400.75,238.53 404.90,236.30" stroke="#707070" stroke-width="1.1" fill="none" stroke-linejoin="round" stroke-linecap="round"/>
<path d="M404.90,236.30 C405.58,236.12 407.58,235.40 409.00,235.20 C410.42,235.00 411.52,235.02 413.40,235.10 C415.28,235.18 419.15,235.60 420.30,235.70" stroke="#707070" stroke-width="1.1" fill="none" stroke-linejoin="round" stroke-linecap="round"/>
<path d="M420.30,235.70 C425.25,237.90 433.38,241.23 450.00,248.90 C466.62,256.57 500.72,272.70 520.00,281.70 C539.28,290.70 556.70,298.60 565.70,302.90 C574.70,307.20 571.90,305.98 574.00,307.50 C576.10,309.02 577.05,310.25 578.30,312.00 C579.55,313.75 580.83,316.10 581.50,318.00 C582.17,319.90 582.27,321.35 582.30,323.40 C582.33,325.45 582.57,328.20 581.70,330.30 C580.83,332.40 578.93,334.38 577.10,336.00 C575.27,337.62 577.37,336.00 570.70,340.00 C564.03,344.00 548.88,353.10 537.10,360.00 C525.32,366.90 516.18,372.12 500.00,381.40 C483.82,390.68 452.85,408.32 440.00,415.70 C427.15,423.08 426.48,423.57 422.90,425.70 C419.32,427.83 419.93,427.83 418.50,428.50 C417.07,429.17 415.88,429.47 414.30,429.70 C412.72,429.93 410.67,429.97 409.00,429.90 C407.33,429.83 405.80,429.70 404.30,429.30 C402.80,428.90 401.32,428.22 400.00,427.50 C398.68,426.78 397.00,425.42 396.40,425.00" stroke="#707070" stroke-width="1.1" fill="none" stroke-linejoin="round" stroke-linecap="round"/>
<path d="M396.40,425.00 L340.00,385.00 L276.60,339.40" stroke="#707070" stroke-width="1.1" fill="none" stroke-linejoin="round" stroke-linecap="round"/>
<path d="M288.10,303.00 C287.40,304.15 285.47,307.18 283.90,309.90 C282.33,312.62 279.85,316.73 278.70,319.30 C277.55,321.87 277.43,323.02 277.00,325.30 C276.57,327.58 276.17,330.65 276.10,333.00 C276.03,335.35 276.52,338.33 276.60,339.40" stroke="#707070" stroke-width="1.1" fill="none" stroke-linejoin="round" stroke-linecap="round"/>
<path d="M284.30,309.40 C285.23,309.22 287.55,308.02 289.90,308.30 C292.25,308.58 296.98,310.63 298.40,311.10" stroke="#707070" stroke-width="1.1" fill="none" stroke-linejoin="round" stroke-linecap="round"/>
<path d="M548.60,301.10 C551.00,302.00 559.00,304.30 563.00,306.50 C567.00,308.70 570.10,311.72 572.60,314.30 C575.10,316.88 576.77,319.15 578.00,322.00 C579.23,324.85 579.67,329.83 580.00,331.40" stroke="#707070" stroke-width="1.1" fill="none" stroke-linejoin="round" stroke-linecap="round"/>
<path d="M413.60,379.30 C413.13,382.75 411.47,394.05 410.80,400.00 C410.13,405.95 409.85,410.00 409.60,415.00 C409.35,420.00 409.35,427.50 409.30,430.00" stroke="#707070" stroke-width="1.1" fill="none" stroke-linejoin="round" stroke-linecap="round"/>
<path d="M414.00,235.50 L414.50,250.00" stroke="#707070" stroke-width="1.1" fill="none" stroke-linejoin="round" stroke-linecap="round"/>
<path d="M278.00,340.00 L278.60,360.00" stroke="#999" stroke-width="1.6" fill="none" stroke-linejoin="round" stroke-linecap="round"/>
<path d="M278.60,360.00 L397.10,441.40" stroke="#707070" stroke-width="1.1" fill="none" stroke-linejoin="round" stroke-linecap="round"/>
<path d="M421.50,441.40 L562.10,360.70" stroke="#707070" stroke-width="1.1" fill="none" stroke-linejoin="round" stroke-linecap="round"/>
<path d="M562.10,346.40 L562.10,360.70" stroke="#707070" stroke-width="1.1" fill="none" stroke-linejoin="round" stroke-linecap="round"/>
<path d="M278.60,360.00 C278.40,361.67 278.83,358.33 277.40,370.00 C275.97,381.67 273.98,410.00 270.00,430.00 C266.02,450.00 256.25,480.00 253.50,490.00" stroke="#707070" stroke-width="1.1" fill="none" stroke-linejoin="round" stroke-linecap="round"/>
<path d="M288.30,366.50 L286.40,386.60" stroke="#707070" stroke-width="1.1" fill="none" stroke-linejoin="round" stroke-linecap="round"/>
<path d="M285.40,396.20 C285.10,398.00 284.67,401.37 283.60,407.00 C282.53,412.63 282.02,417.67 279.00,430.00 C275.98,442.33 267.75,472.50 265.50,481.00" stroke="#707070" stroke-width="1.1" fill="none" stroke-linejoin="round" stroke-linecap="round"/>
<path d="M240.80,484.80 L253.50,490.00 L265.50,481.00" stroke="#707070" stroke-width="1.1" fill="none" stroke-linejoin="round" stroke-linecap="round"/>
<path d="M283.20,384.40 L350.80,432.40" stroke="#707070" stroke-width="1.1" fill="none" stroke-linejoin="round" stroke-linecap="round"/>
<path d="M380.50,453.30 L397.10,465.00" stroke="#707070" stroke-width="1.1" fill="none" stroke-linejoin="round" stroke-linecap="round"/>
<path d="M279.90,392.40 L339.20,434.30" stroke="#707070" stroke-width="1.1" fill="none" stroke-linejoin="round" stroke-linecap="round"/>
<path d="M366.60,453.30 L397.10,473.70" stroke="#707070" stroke-width="1.1" fill="none" stroke-linejoin="round" stroke-linecap="round"/>
<path d="M283.20,384.40 C282.77,384.62 281.32,384.98 280.60,385.70 C279.88,386.42 279.18,387.70 278.90,388.70 C278.62,389.70 278.73,391.08 278.90,391.70 C279.07,392.32 279.73,392.28 279.90,392.40" stroke="#707070" stroke-width="1.1" fill="none" stroke-linejoin="round" stroke-linecap="round"/>
<path d="M397.10,427.00 C397.18,429.17 397.35,432.83 397.60,440.00 C397.85,447.17 397.92,445.00 398.60,470.00 C399.28,495.00 401.18,570.00 401.70,590.00" stroke="#707070" stroke-width="1.1" fill="none" stroke-linejoin="round" stroke-linecap="round"/>
<path d="M421.40,427.00 C421.33,429.17 421.12,432.83 421.00,440.00 C420.88,447.17 421.30,445.00 420.70,470.00 C420.10,495.00 417.95,570.00 417.40,590.00" stroke="#707070" stroke-width="1.1" fill="none" stroke-linejoin="round" stroke-linecap="round"/>
<path d="M401.70,590.00 C402.25,590.38 403.68,591.83 405.00,592.30 C406.32,592.77 408.10,592.80 409.60,592.80 C411.10,592.80 412.70,592.77 414.00,592.30 C415.30,591.83 416.83,590.38 417.40,590.00" stroke="#707070" stroke-width="1.1" fill="none" stroke-linejoin="round" stroke-linecap="round"/>
<path d="M553.60,365.70 C553.95,378.08 555.02,417.50 555.70,440.00 C556.38,462.50 557.37,490.58 557.70,500.70" stroke="#707070" stroke-width="1.1" fill="none" stroke-linejoin="round" stroke-linecap="round"/>
<path d="M577.90,338.00 C577.42,355.00 575.87,412.88 575.00,440.00 C574.13,467.12 573.08,490.58 572.70,500.70" stroke="#707070" stroke-width="1.1" fill="none" stroke-linejoin="round" stroke-linecap="round"/>
<path d="M557.70,500.70 C558.25,501.02 559.75,502.22 561.00,502.60 C562.25,502.98 563.78,503.00 565.20,503.00 C566.62,503.00 568.25,502.98 569.50,502.60 C570.75,502.22 572.17,501.02 572.70,500.70" stroke="#707070" stroke-width="1.1" fill="none" stroke-linejoin="round" stroke-linecap="round"/>
<path d="M535.00,376.40 L542.90,371.40 L554.30,376.40" stroke="#707070" stroke-width="1.1" fill="none" stroke-linejoin="round" stroke-linecap="round"/>
<path d="M535.00,376.40 L554.30,385.70" stroke="#707070" stroke-width="1.1" fill="none" stroke-linejoin="round" stroke-linecap="round"/>
<line x1="229.5" y1="16" x2="229.5" y2="124" stroke="#4a4a4a" stroke-width="1.2" stroke-dasharray="5.2 3.5"/>
<line x1="394.2" y1="12" x2="394.2" y2="45.4" stroke="#4a4a4a" stroke-width="1.2" stroke-dasharray="5.6 3.4"/>
<line x1="229.50" y1="21.50" x2="291.00" y2="21.50" stroke="#333" stroke-width="1.15"/>
<line x1="339.50" y1="21.50" x2="394.00" y2="21.50" stroke="#333" stroke-width="1.15"/>
<polygon points="229.50,21.50 239.50,17.20 237.90,21.50 239.50,25.80" fill="#111"/>
<polygon points="394.00,21.50 384.00,25.80 385.60,21.50 384.00,17.20" fill="#111"/>
<text x="294.50" y="26.00" font-size="15.5" font-weight="bold" font-family="Liberation Sans, sans-serif" fill="#111" stroke="#111" stroke-width="0.25" textLength="42.50" lengthAdjust="spacingAndGlyphs">17.00”</text>
<line x1="129" y1="123.6" x2="231" y2="123.6" stroke="#4a4a4a" stroke-width="1.2" stroke-dasharray="4.7 2.7"/>
<line x1="137.50" y1="124.00" x2="137.50" y2="268.60" stroke="#333" stroke-width="1.15"/>
<line x1="137.50" y1="290.00" x2="137.50" y2="484.50" stroke="#333" stroke-width="1.15"/>
<polygon points="137.50,124.00 141.80,134.00 137.50,132.40 133.20,134.00" fill="#111"/>
<polygon points="137.50,484.50 133.20,474.50 137.50,476.10 141.80,474.50" fill="#111"/>
<text x="119.10" y="284.00" font-size="15.5" font-weight="bold" font-family="Liberation Sans, sans-serif" fill="#111" stroke="#111" stroke-width="0.25" textLength="43.40" lengthAdjust="spacingAndGlyphs">35.00”</text>
<line x1="128.6" y1="484.8" x2="241" y2="484.8" stroke="#4a4a4a" stroke-width="1.2" stroke-dasharray="4.7 2.7"/>
<line x1="170.9" y1="304.3" x2="285.6" y2="304.3" stroke="#4a4a4a" stroke-width="1.2" stroke-dasharray="4.3 2.56"/>
<line x1="181.40" y1="305.00" x2="181.40" y2="373.60" stroke="#333" stroke-width="1.15"/>
<line x1="181.40" y1="394.60" x2="181.40" y2="484.50" stroke="#333" stroke-width="1.15"/>
<polygon points="181.40,305.00 185.70,315.00 181.40,313.40 177.10,315.00" fill="#111"/>
<polygon points="181.40,484.50 177.10,474.50 181.40,476.10 185.70,474.50" fill="#111"/>
<text x="160.80" y="390.00" font-size="15.5" font-weight="bold" font-family="Liberation Sans, sans-serif" fill="#111" stroke="#111" stroke-width="0.25" textLength="42.30" lengthAdjust="spacingAndGlyphs">19.50”</text>
<line x1="209" y1="358.6" x2="276" y2="358.6" stroke="#4a4a4a" stroke-width="1.2" stroke-dasharray="6.5 4"/>
<line x1="223.20" y1="359.00" x2="223.20" y2="410.70" stroke="#333" stroke-width="1.15"/>
<line x1="223.20" y1="430.00" x2="223.20" y2="484.50" stroke="#333" stroke-width="1.15"/>
<polygon points="223.20,359.00 227.50,369.00 223.20,367.40 218.90,369.00" fill="#111"/>
<polygon points="223.20,484.50 218.90,474.50 223.20,476.10 227.50,474.50" fill="#111"/>
<text x="204.40" y="425.00" font-size="15.5" font-weight="bold" font-family="Liberation Sans, sans-serif" fill="#111" stroke="#111" stroke-width="0.25" textLength="42.90" lengthAdjust="spacingAndGlyphs">14.50”</text>
<line x1="385.60" y1="432.00" x2="385.60" y2="456.10" stroke="#333" stroke-width="1.25"/>
<polygon points="385.60,432.00 389.55,441.00 385.60,439.40 381.65,441.00" fill="#111"/>
<polygon points="385.60,456.10 381.65,447.10 385.60,448.70 389.55,447.10" fill="#111"/>
<text x="343.20" y="448.70" font-size="15.5" font-weight="bold" font-family="Liberation Sans, sans-serif" fill="#111" stroke="#111" stroke-width="0.25" textLength="34.90" lengthAdjust="spacingAndGlyphs">3.25”</text>
<line x1="385.50" y1="473.00" x2="385.50" y2="590.00" stroke="#333" stroke-width="1.25"/>
<polygon points="385.50,473.00 389.80,483.00 385.50,481.40 381.20,483.00" fill="#111"/>
<polygon points="385.50,590.00 381.20,580.00 385.50,581.60 389.80,580.00" fill="#111"/>
<text x="341.90" y="523.80" font-size="15.5" font-weight="bold" font-family="Liberation Sans, sans-serif" fill="#111" stroke="#111" stroke-width="0.25" textLength="42.80" lengthAdjust="spacingAndGlyphs">10.50”</text>
<line x1="230.8" y1="487" x2="230.8" y2="686" stroke="#666" stroke-width="1.2" stroke-dasharray="6.8 3.5"/>
<line x1="241.1" y1="489" x2="241.1" y2="651" stroke="#666" stroke-width="1.2" stroke-dasharray="6.8 3.5"/>
<line x1="253.4" y1="492" x2="253.4" y2="618" stroke="#4a4a4a" stroke-width="1.2" stroke-dasharray="5.5 3.6"/>
<line x1="402.1" y1="593" x2="402.1" y2="618.7" stroke="#4a4a4a" stroke-width="1.2" stroke-dasharray="5.5 3"/>
<line x1="409.6" y1="594" x2="409.6" y2="685" stroke="#4a4a4a" stroke-width="1.2" stroke-dasharray="5.5 3"/>
<line x1="417.4" y1="593" x2="417.4" y2="618.7" stroke="#4a4a4a" stroke-width="1.2" stroke-dasharray="5.5 3"/>
<line x1="557.3" y1="502" x2="557.3" y2="615" stroke="#4a4a4a" stroke-width="1.2" stroke-dasharray="5.5 3.2"/>
<line x1="572.8" y1="502" x2="572.8" y2="645" stroke="#4a4a4a" stroke-width="1.2" stroke-dasharray="6.3 4"/>
<line x1="253.60" y1="612.40" x2="308.60" y2="612.40" stroke="#333" stroke-width="1.15"/>
<line x1="358.60" y1="612.40" x2="402.30" y2="612.40" stroke="#333" stroke-width="1.15"/>
<polygon points="253.60,612.40 263.60,608.10 262.00,612.40 263.60,616.70" fill="#111"/>
<polygon points="402.30,612.40 392.30,616.70 393.90,612.40 392.30,608.10" fill="#111"/>
<text x="313.15" y="616.70" font-size="15.5" font-weight="bold" font-family="Liberation Sans, sans-serif" fill="#111" stroke="#111" stroke-width="0.25" textLength="41.80" lengthAdjust="spacingAndGlyphs">17.00”</text>
<line x1="241.40" y1="643.30" x2="301.80" y2="643.30" stroke="#333" stroke-width="1.15"/>
<line x1="351.80" y1="643.30" x2="409.80" y2="643.30" stroke="#333" stroke-width="1.15"/>
<polygon points="241.40,643.30 251.40,639.00 249.80,643.30 251.40,647.60" fill="#111"/>
<polygon points="409.80,643.30 399.80,647.60 401.40,643.30 399.80,639.00" fill="#111"/>
<text x="306.60" y="648.00" font-size="15.5" font-weight="bold" font-family="Liberation Sans, sans-serif" fill="#111" stroke="#111" stroke-width="0.25" textLength="41.90" lengthAdjust="spacingAndGlyphs">19.75”</text>
<line x1="231.00" y1="675.20" x2="298.00" y2="675.20" stroke="#333" stroke-width="1.15"/>
<line x1="348.30" y1="675.20" x2="409.80" y2="675.20" stroke="#333" stroke-width="1.15"/>
<polygon points="231.00,675.20 241.00,670.90 239.40,675.20 241.00,679.50" fill="#111"/>
<polygon points="409.80,675.20 399.80,679.50 401.40,675.20 399.80,670.90" fill="#111"/>
<text x="302.60" y="679.90" font-size="15.5" font-weight="bold" font-family="Liberation Sans, sans-serif" fill="#111" stroke="#111" stroke-width="0.25" textLength="42.20" lengthAdjust="spacingAndGlyphs">22.50”</text>
<line x1="417.40" y1="612.40" x2="469.10" y2="612.40" stroke="#333" stroke-width="1.15"/>
<line x1="518.90" y1="612.40" x2="557.70" y2="612.40" stroke="#333" stroke-width="1.15"/>
<polygon points="417.40,612.40 427.40,608.10 425.80,612.40 427.40,616.70" fill="#111"/>
<polygon points="557.70,612.40 547.70,616.70 549.30,612.40 547.70,608.10" fill="#111"/>
<text x="473.30" y="616.70" font-size="15.5" font-weight="bold" font-family="Liberation Sans, sans-serif" fill="#111" stroke="#111" stroke-width="0.25" textLength="42.90" lengthAdjust="spacingAndGlyphs">16.00”</text>
<line x1="409.80" y1="643.60" x2="469.10" y2="643.60" stroke="#333" stroke-width="1.15"/>
<line x1="518.90" y1="643.60" x2="572.70" y2="643.60" stroke="#333" stroke-width="1.15"/>
<polygon points="409.80,643.60 419.80,639.30 418.20,643.60 419.80,647.90" fill="#111"/>
<polygon points="572.70,643.60 562.70,647.90 564.30,643.60 562.70,639.30" fill="#111"/>
<text x="473.30" y="648.10" font-size="15.5" font-weight="bold" font-family="Liberation Sans, sans-serif" fill="#111" stroke="#111" stroke-width="0.25" textLength="42.90" lengthAdjust="spacingAndGlyphs">18.50”</text>
<line x1="316.60" y1="76.60" x2="355.80" y2="261.80" stroke="#333" stroke-width="1.25"/>
<polygon points="316.60,76.60 322.88,85.49 318.34,84.82 314.46,87.27" fill="#111"/>
<polygon points="355.80,261.80 349.52,252.91 354.06,253.58 357.94,251.13" fill="#111"/>
<rect x="313.1" y="156.6" width="46.299999999999955" height="16.5" fill="#fff"/>
<text x="316.00" y="170.30" font-size="15.5" font-weight="bold" font-family="Liberation Sans, sans-serif" fill="#111" stroke="#111" stroke-width="0.25" textLength="41.90" lengthAdjust="spacingAndGlyphs">16.25”</text>
<line x1="349.10" y1="268.60" x2="505.00" y2="373.00" stroke="#333" stroke-width="1.25"/>
<polygon points="349.10,268.60 359.80,270.59 356.08,273.27 355.02,277.74" fill="#111"/>
<polygon points="505.00,373.00 494.30,371.01 498.02,368.33 499.08,363.86" fill="#111"/>
<text x="420.30" y="315.00" font-size="15.5" font-weight="bold" font-family="Liberation Sans, sans-serif" fill="#111" stroke="#111" stroke-width="0.25" textLength="42.40" lengthAdjust="spacingAndGlyphs">18.50”</text>
<line x1="576.00" y1="314.90" x2="396.10" y2="417.60" stroke="#333" stroke-width="1.25"/>
<polygon points="576.00,314.90 569.45,323.59 568.71,319.06 565.18,316.12" fill="#111"/>
<polygon points="396.10,417.60 402.65,408.91 403.39,413.44 406.92,416.38" fill="#111"/>
<text x="425.50" y="374.80" font-size="15.5" font-weight="bold" font-family="Liberation Sans, sans-serif" fill="#111" stroke="#111" stroke-width="0.25" textLength="43.30" lengthAdjust="spacingAndGlyphs">20.00”</text>
</svg></body></html>
